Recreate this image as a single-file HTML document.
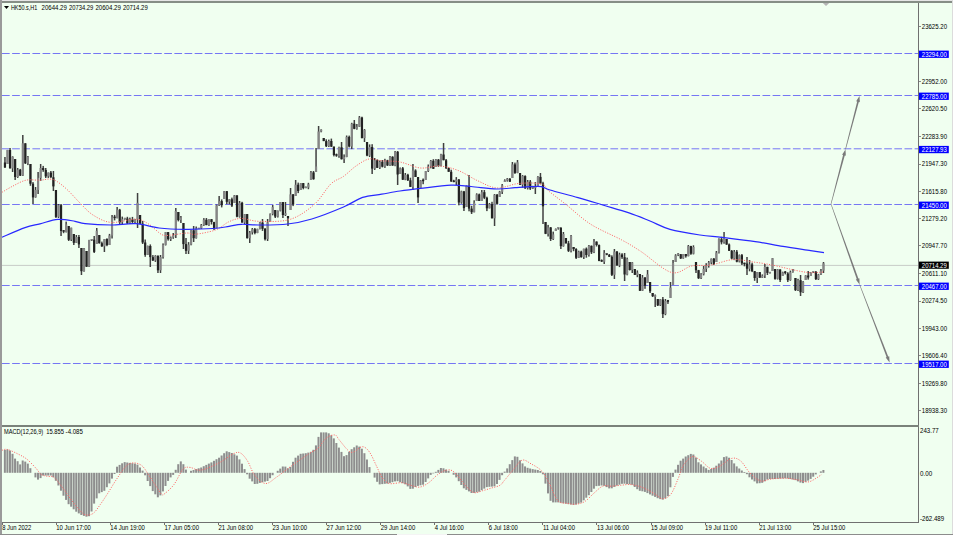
<!DOCTYPE html><html><head><meta charset="utf-8"><style>html,body{margin:0;padding:0;background:#F0FFF0;overflow:hidden}svg{display:block}text{font-family:"Liberation Sans",sans-serif;font-size:7px;fill:#000}</style></head><body>
<svg width="953" height="535" viewBox="0 0 953 535">
<rect x="0" y="0" width="953" height="535" fill="#F0FFF0"/>
<g>
<line x1="2" y1="53.5" x2="918" y2="53.5" stroke="#7676f4" stroke-width="1" stroke-dasharray="7.7 2.44"/>
<line x1="2" y1="95.5" x2="918" y2="95.5" stroke="#7676f4" stroke-width="1" stroke-dasharray="7.7 2.44"/>
<line x1="2" y1="148.8" x2="918" y2="148.8" stroke="#7676f4" stroke-width="1" stroke-dasharray="7.7 2.44"/>
<line x1="2" y1="204.5" x2="918" y2="204.5" stroke="#7676f4" stroke-width="1" stroke-dasharray="7.7 2.44"/>
<line x1="2" y1="285.5" x2="918" y2="285.5" stroke="#7676f4" stroke-width="1" stroke-dasharray="7.7 2.44"/>
<line x1="2" y1="363.5" x2="918" y2="363.5" stroke="#7676f4" stroke-width="1" stroke-dasharray="7.7 2.44"/>
<line x1="2" y1="265.4" x2="918" y2="265.4" stroke="#c8ccc8" stroke-width="1"/>
</g>
<g>
<rect x="4.20" y="157.0" width="1.5" height="11.0" fill="#404040"/>
<rect x="3.85" y="162.5" width="2.2" height="4.9" fill="#222"/>
<rect x="6.75" y="149.9" width="1.5" height="14.1" fill="#404040"/>
<rect x="6.40" y="150.0" width="2.2" height="14.0" fill="#858585"/>
<rect x="9.30" y="148.0" width="1.5" height="20.6" fill="#404040"/>
<rect x="8.95" y="150.0" width="2.2" height="18.3" fill="#222"/>
<rect x="11.85" y="156.3" width="1.5" height="15.7" fill="#404040"/>
<rect x="11.50" y="156.7" width="2.2" height="11.7" fill="#858585"/>
<rect x="14.40" y="159.0" width="1.5" height="21.0" fill="#404040"/>
<rect x="14.05" y="159.0" width="2.2" height="18.0" fill="#222"/>
<rect x="16.95" y="168.0" width="1.5" height="9.9" fill="#404040"/>
<rect x="16.60" y="169.6" width="2.2" height="7.4" fill="#858585"/>
<rect x="19.50" y="168.9" width="1.5" height="7.1" fill="#404040"/>
<rect x="19.15" y="169.6" width="2.2" height="6.0" fill="#222"/>
<rect x="22.05" y="135.0" width="1.5" height="41.0" fill="#404040"/>
<rect x="21.70" y="143.3" width="2.2" height="32.3" fill="#858585"/>
<rect x="24.60" y="143.2" width="1.5" height="20.8" fill="#404040"/>
<rect x="24.25" y="143.3" width="2.2" height="20.0" fill="#222"/>
<rect x="27.15" y="156.0" width="1.5" height="9.1" fill="#404040"/>
<rect x="26.80" y="156.9" width="2.2" height="6.4" fill="#858585"/>
<rect x="29.70" y="164.0" width="1.5" height="21.8" fill="#404040"/>
<rect x="29.35" y="164.0" width="2.2" height="19.7" fill="#222"/>
<rect x="32.25" y="182.1" width="1.5" height="21.9" fill="#404040"/>
<rect x="31.90" y="183.7" width="2.2" height="13.7" fill="#222"/>
<rect x="34.80" y="187.0" width="1.5" height="10.7" fill="#404040"/>
<rect x="34.45" y="189.9" width="2.2" height="7.4" fill="#858585"/>
<rect x="37.35" y="172.0" width="1.5" height="22.0" fill="#404040"/>
<rect x="37.00" y="177.8" width="2.2" height="12.1" fill="#858585"/>
<rect x="39.90" y="164.0" width="1.5" height="17.0" fill="#404040"/>
<rect x="39.55" y="168.0" width="2.2" height="9.9" fill="#858585"/>
<rect x="42.45" y="165.9" width="1.5" height="5.9" fill="#404040"/>
<rect x="42.10" y="168.0" width="2.2" height="2.0" fill="#222"/>
<rect x="45.00" y="168.0" width="1.5" height="10.0" fill="#404040"/>
<rect x="44.65" y="170.0" width="2.2" height="6.4" fill="#222"/>
<rect x="47.55" y="172.5" width="1.5" height="5.4" fill="#404040"/>
<rect x="47.20" y="172.6" width="2.2" height="3.8" fill="#858585"/>
<rect x="50.10" y="171.0" width="1.5" height="6.9" fill="#404040"/>
<rect x="49.75" y="172.6" width="2.2" height="4.6" fill="#222"/>
<rect x="52.65" y="171.0" width="1.5" height="20.0" fill="#404040"/>
<rect x="52.30" y="177.3" width="2.2" height="9.1" fill="#222"/>
<rect x="55.20" y="190.0" width="1.5" height="28.0" fill="#404040"/>
<rect x="54.85" y="190.0" width="2.2" height="26.9" fill="#222"/>
<rect x="57.75" y="204.0" width="1.5" height="14.0" fill="#404040"/>
<rect x="57.40" y="205.2" width="2.2" height="11.6" fill="#858585"/>
<rect x="60.30" y="204.0" width="1.5" height="32.0" fill="#404040"/>
<rect x="59.95" y="205.2" width="2.2" height="25.8" fill="#222"/>
<rect x="62.85" y="230.1" width="1.5" height="3.1" fill="#404040"/>
<rect x="62.50" y="230.2" width="2.2" height="1.5" fill="#222"/>
<rect x="65.40" y="221.6" width="1.5" height="10.9" fill="#404040"/>
<rect x="65.05" y="224.4" width="2.2" height="7.6" fill="#858585"/>
<rect x="67.95" y="226.0" width="1.5" height="15.0" fill="#404040"/>
<rect x="67.60" y="226.0" width="2.2" height="13.8" fill="#222"/>
<rect x="70.50" y="227.7" width="1.5" height="13.3" fill="#404040"/>
<rect x="70.15" y="227.7" width="2.2" height="12.0" fill="#858585"/>
<rect x="73.05" y="234.0" width="1.5" height="11.0" fill="#404040"/>
<rect x="72.70" y="234.0" width="2.2" height="8.8" fill="#222"/>
<rect x="75.60" y="235.0" width="1.5" height="8.0" fill="#404040"/>
<rect x="75.25" y="237.0" width="2.2" height="5.8" fill="#858585"/>
<rect x="78.15" y="235.0" width="1.5" height="13.0" fill="#404040"/>
<rect x="77.80" y="237.0" width="2.2" height="7.4" fill="#222"/>
<rect x="80.70" y="248.0" width="1.5" height="27.0" fill="#404040"/>
<rect x="80.35" y="248.0" width="2.2" height="23.2" fill="#222"/>
<rect x="83.25" y="248.0" width="1.5" height="23.7" fill="#404040"/>
<rect x="82.90" y="248.6" width="2.2" height="22.6" fill="#858585"/>
<rect x="85.80" y="251.0" width="1.5" height="16.0" fill="#404040"/>
<rect x="85.45" y="251.0" width="2.2" height="15.7" fill="#222"/>
<rect x="88.35" y="239.9" width="1.5" height="27.1" fill="#404040"/>
<rect x="88.00" y="239.9" width="2.2" height="26.8" fill="#858585"/>
<rect x="90.90" y="239.0" width="1.5" height="2.0" fill="#404040"/>
<rect x="90.55" y="239.0" width="2.2" height="1.5" fill="#858585"/>
<rect x="93.45" y="236.0" width="1.5" height="17.0" fill="#404040"/>
<rect x="93.10" y="239.7" width="2.2" height="12.2" fill="#222"/>
<rect x="96.00" y="228.0" width="1.5" height="16.0" fill="#404040"/>
<rect x="95.65" y="230.7" width="2.2" height="13.3" fill="#858585"/>
<rect x="98.55" y="235.0" width="1.5" height="8.6" fill="#404040"/>
<rect x="98.20" y="235.0" width="2.2" height="8.2" fill="#222"/>
<rect x="101.10" y="241.6" width="1.5" height="5.2" fill="#404040"/>
<rect x="100.75" y="243.2" width="2.2" height="3.2" fill="#222"/>
<rect x="103.65" y="239.0" width="1.5" height="13.0" fill="#404040"/>
<rect x="103.30" y="239.1" width="2.2" height="7.2" fill="#858585"/>
<rect x="106.20" y="238.3" width="1.5" height="7.9" fill="#404040"/>
<rect x="105.85" y="239.1" width="2.2" height="6.0" fill="#222"/>
<rect x="108.75" y="233.9" width="1.5" height="11.1" fill="#404040"/>
<rect x="108.40" y="235.5" width="2.2" height="9.5" fill="#858585"/>
<rect x="111.30" y="215.0" width="1.5" height="23.5" fill="#404040"/>
<rect x="110.95" y="217.3" width="2.2" height="18.2" fill="#858585"/>
<rect x="113.85" y="214.9" width="1.5" height="5.5" fill="#404040"/>
<rect x="113.50" y="216.6" width="2.2" height="1.5" fill="#222"/>
<rect x="116.40" y="207.0" width="1.5" height="11.3" fill="#404040"/>
<rect x="116.05" y="209.7" width="2.2" height="8.5" fill="#858585"/>
<rect x="118.95" y="208.9" width="1.5" height="15.1" fill="#404040"/>
<rect x="118.60" y="209.7" width="2.2" height="12.6" fill="#222"/>
<rect x="121.50" y="216.6" width="1.5" height="7.4" fill="#404040"/>
<rect x="121.15" y="219.1" width="2.2" height="3.2" fill="#858585"/>
<rect x="124.05" y="217.9" width="1.5" height="1.8" fill="#404040"/>
<rect x="123.70" y="217.8" width="2.2" height="1.5" fill="#858585"/>
<rect x="126.60" y="216.8" width="1.5" height="7.2" fill="#404040"/>
<rect x="126.25" y="218.5" width="2.2" height="4.8" fill="#222"/>
<rect x="129.15" y="217.6" width="1.5" height="6.4" fill="#404040"/>
<rect x="128.80" y="219.4" width="2.2" height="4.0" fill="#858585"/>
<rect x="131.70" y="216.9" width="1.5" height="7.1" fill="#404040"/>
<rect x="131.35" y="219.4" width="2.2" height="2.6" fill="#222"/>
<rect x="134.25" y="218.9" width="1.5" height="5.1" fill="#404040"/>
<rect x="133.90" y="219.3" width="2.2" height="2.6" fill="#858585"/>
<rect x="136.80" y="193.0" width="1.5" height="35.0" fill="#404040"/>
<rect x="136.45" y="202.8" width="2.2" height="16.5" fill="#858585"/>
<rect x="139.35" y="215.0" width="1.5" height="9.2" fill="#404040"/>
<rect x="139.00" y="215.0" width="2.2" height="8.7" fill="#222"/>
<rect x="141.90" y="221.0" width="1.5" height="23.0" fill="#404040"/>
<rect x="141.55" y="223.7" width="2.2" height="18.8" fill="#222"/>
<rect x="144.45" y="239.5" width="1.5" height="17.3" fill="#404040"/>
<rect x="144.10" y="242.5" width="2.2" height="12.4" fill="#222"/>
<rect x="147.00" y="245.6" width="1.5" height="9.3" fill="#404040"/>
<rect x="146.65" y="246.0" width="2.2" height="8.9" fill="#858585"/>
<rect x="149.55" y="244.4" width="1.5" height="22.6" fill="#404040"/>
<rect x="149.20" y="246.0" width="2.2" height="11.1" fill="#222"/>
<rect x="152.10" y="255.1" width="1.5" height="5.9" fill="#404040"/>
<rect x="151.75" y="257.1" width="2.2" height="3.4" fill="#222"/>
<rect x="154.65" y="255.2" width="1.5" height="6.7" fill="#404040"/>
<rect x="154.30" y="255.8" width="2.2" height="4.7" fill="#858585"/>
<rect x="157.20" y="255.4" width="1.5" height="17.6" fill="#404040"/>
<rect x="156.85" y="255.8" width="2.2" height="14.5" fill="#222"/>
<rect x="159.75" y="255.0" width="1.5" height="18.0" fill="#404040"/>
<rect x="159.40" y="257.0" width="2.2" height="13.3" fill="#858585"/>
<rect x="162.30" y="243.4" width="1.5" height="15.2" fill="#404040"/>
<rect x="161.95" y="244.9" width="2.2" height="12.1" fill="#858585"/>
<rect x="164.85" y="232.0" width="1.5" height="13.5" fill="#404040"/>
<rect x="164.50" y="232.1" width="2.2" height="12.8" fill="#858585"/>
<rect x="167.40" y="232.0" width="1.5" height="8.6" fill="#404040"/>
<rect x="167.05" y="232.1" width="2.2" height="7.1" fill="#222"/>
<rect x="169.95" y="236.5" width="1.5" height="4.5" fill="#404040"/>
<rect x="169.60" y="237.5" width="2.2" height="1.8" fill="#858585"/>
<rect x="172.50" y="233.0" width="1.5" height="5.8" fill="#404040"/>
<rect x="172.15" y="235.2" width="2.2" height="2.3" fill="#858585"/>
<rect x="175.05" y="208.0" width="1.5" height="30.0" fill="#404040"/>
<rect x="174.70" y="210.9" width="2.2" height="24.3" fill="#858585"/>
<rect x="177.60" y="212.0" width="1.5" height="9.4" fill="#404040"/>
<rect x="177.25" y="212.0" width="2.2" height="8.1" fill="#222"/>
<rect x="180.15" y="216.0" width="1.5" height="7.0" fill="#404040"/>
<rect x="179.80" y="217.5" width="2.2" height="2.5" fill="#858585"/>
<rect x="182.70" y="223.0" width="1.5" height="26.0" fill="#404040"/>
<rect x="182.35" y="223.0" width="2.2" height="21.1" fill="#222"/>
<rect x="185.25" y="238.0" width="1.5" height="16.0" fill="#404040"/>
<rect x="184.90" y="244.1" width="2.2" height="6.7" fill="#222"/>
<rect x="187.80" y="242.1" width="1.5" height="11.9" fill="#404040"/>
<rect x="187.45" y="244.6" width="2.2" height="6.2" fill="#858585"/>
<rect x="190.35" y="230.1" width="1.5" height="15.2" fill="#404040"/>
<rect x="190.00" y="230.3" width="2.2" height="14.3" fill="#858585"/>
<rect x="192.90" y="226.0" width="1.5" height="16.0" fill="#404040"/>
<rect x="192.55" y="230.3" width="2.2" height="7.9" fill="#222"/>
<rect x="195.45" y="226.5" width="1.5" height="12.1" fill="#404040"/>
<rect x="195.10" y="228.5" width="2.2" height="9.7" fill="#858585"/>
<rect x="198.00" y="228.0" width="1.5" height="1.0" fill="#404040"/>
<rect x="197.65" y="227.6" width="2.2" height="1.5" fill="#858585"/>
<rect x="200.55" y="224.0" width="1.5" height="5.0" fill="#404040"/>
<rect x="200.20" y="224.9" width="2.2" height="3.5" fill="#858585"/>
<rect x="203.10" y="218.1" width="1.5" height="7.8" fill="#404040"/>
<rect x="202.75" y="219.7" width="2.2" height="5.2" fill="#858585"/>
<rect x="205.65" y="218.0" width="1.5" height="7.2" fill="#404040"/>
<rect x="205.30" y="219.7" width="2.2" height="5.4" fill="#222"/>
<rect x="208.20" y="219.2" width="1.5" height="6.7" fill="#404040"/>
<rect x="207.85" y="219.2" width="2.2" height="5.9" fill="#858585"/>
<rect x="210.75" y="219.1" width="1.5" height="5.4" fill="#404040"/>
<rect x="210.40" y="219.2" width="2.2" height="2.8" fill="#222"/>
<rect x="213.30" y="221.8" width="1.5" height="8.2" fill="#404040"/>
<rect x="212.95" y="222.1" width="2.2" height="5.8" fill="#222"/>
<rect x="215.85" y="204.5" width="1.5" height="23.8" fill="#404040"/>
<rect x="215.50" y="205.3" width="2.2" height="22.6" fill="#858585"/>
<rect x="218.40" y="196.0" width="1.5" height="10.0" fill="#404040"/>
<rect x="218.05" y="201.1" width="2.2" height="4.2" fill="#858585"/>
<rect x="220.95" y="199.4" width="1.5" height="8.0" fill="#404040"/>
<rect x="220.60" y="201.1" width="2.2" height="4.1" fill="#222"/>
<rect x="223.50" y="191.0" width="1.5" height="8.0" fill="#404040"/>
<rect x="223.15" y="191.2" width="2.2" height="7.8" fill="#858585"/>
<rect x="226.05" y="191.0" width="1.5" height="13.2" fill="#404040"/>
<rect x="225.70" y="191.2" width="2.2" height="10.6" fill="#222"/>
<rect x="228.60" y="199.1" width="1.5" height="5.2" fill="#404040"/>
<rect x="228.25" y="199.3" width="2.2" height="2.4" fill="#858585"/>
<rect x="231.15" y="197.6" width="1.5" height="9.4" fill="#404040"/>
<rect x="230.80" y="199.3" width="2.2" height="6.3" fill="#222"/>
<rect x="233.70" y="195.0" width="1.5" height="8.0" fill="#404040"/>
<rect x="233.35" y="195.4" width="2.2" height="7.6" fill="#858585"/>
<rect x="236.25" y="195.2" width="1.5" height="22.1" fill="#404040"/>
<rect x="235.90" y="195.4" width="2.2" height="21.3" fill="#222"/>
<rect x="238.80" y="201.0" width="1.5" height="16.6" fill="#404040"/>
<rect x="238.45" y="202.8" width="2.2" height="13.9" fill="#858585"/>
<rect x="241.35" y="201.8" width="1.5" height="20.8" fill="#404040"/>
<rect x="241.00" y="202.8" width="2.2" height="19.8" fill="#222"/>
<rect x="243.90" y="214.0" width="1.5" height="10.0" fill="#404040"/>
<rect x="243.55" y="214.1" width="2.2" height="8.5" fill="#858585"/>
<rect x="246.45" y="214.0" width="1.5" height="24.5" fill="#404040"/>
<rect x="246.10" y="214.1" width="2.2" height="24.1" fill="#222"/>
<rect x="249.00" y="231.0" width="1.5" height="12.0" fill="#404040"/>
<rect x="248.65" y="232.5" width="2.2" height="5.7" fill="#858585"/>
<rect x="251.55" y="228.0" width="1.5" height="6.5" fill="#404040"/>
<rect x="251.20" y="229.2" width="2.2" height="3.2" fill="#858585"/>
<rect x="254.10" y="228.0" width="1.5" height="6.3" fill="#404040"/>
<rect x="253.75" y="229.2" width="2.2" height="3.7" fill="#222"/>
<rect x="256.65" y="228.7" width="1.5" height="4.5" fill="#404040"/>
<rect x="256.30" y="228.9" width="2.2" height="4.1" fill="#858585"/>
<rect x="259.20" y="221.9" width="1.5" height="7.5" fill="#404040"/>
<rect x="258.85" y="222.6" width="2.2" height="6.2" fill="#858585"/>
<rect x="261.75" y="219.0" width="1.5" height="11.9" fill="#404040"/>
<rect x="261.40" y="222.6" width="2.2" height="6.2" fill="#222"/>
<rect x="264.30" y="228.0" width="1.5" height="12.5" fill="#404040"/>
<rect x="263.95" y="228.9" width="2.2" height="10.3" fill="#222"/>
<rect x="266.85" y="219.0" width="1.5" height="22.0" fill="#404040"/>
<rect x="266.50" y="222.4" width="2.2" height="16.7" fill="#858585"/>
<rect x="269.40" y="213.4" width="1.5" height="8.6" fill="#404040"/>
<rect x="269.05" y="214.1" width="2.2" height="7.9" fill="#858585"/>
<rect x="271.95" y="205.0" width="1.5" height="10.3" fill="#404040"/>
<rect x="271.60" y="207.1" width="2.2" height="7.0" fill="#858585"/>
<rect x="274.50" y="210.0" width="1.5" height="8.0" fill="#404040"/>
<rect x="274.15" y="210.0" width="2.2" height="6.6" fill="#222"/>
<rect x="277.05" y="210.5" width="1.5" height="7.0" fill="#404040"/>
<rect x="276.70" y="210.7" width="2.2" height="5.9" fill="#858585"/>
<rect x="279.60" y="202.0" width="1.5" height="9.4" fill="#404040"/>
<rect x="279.25" y="202.1" width="2.2" height="8.6" fill="#858585"/>
<rect x="282.15" y="202.0" width="1.5" height="16.0" fill="#404040"/>
<rect x="281.80" y="202.1" width="2.2" height="12.9" fill="#222"/>
<rect x="284.70" y="202.0" width="1.5" height="14.0" fill="#404040"/>
<rect x="284.35" y="213.2" width="2.2" height="1.8" fill="#858585"/>
<rect x="287.25" y="216.0" width="1.5" height="10.0" fill="#404040"/>
<rect x="286.90" y="216.0" width="2.2" height="2.2" fill="#222"/>
<rect x="289.80" y="188.0" width="1.5" height="22.0" fill="#404040"/>
<rect x="289.45" y="194.4" width="2.2" height="15.6" fill="#858585"/>
<rect x="292.35" y="194.0" width="1.5" height="12.1" fill="#404040"/>
<rect x="292.00" y="194.4" width="2.2" height="10.1" fill="#222"/>
<rect x="294.90" y="180.0" width="1.5" height="16.0" fill="#404040"/>
<rect x="294.55" y="184.7" width="2.2" height="11.3" fill="#858585"/>
<rect x="297.45" y="182.6" width="1.5" height="10.5" fill="#404040"/>
<rect x="297.10" y="184.7" width="2.2" height="6.3" fill="#222"/>
<rect x="300.00" y="183.0" width="1.5" height="7.0" fill="#404040"/>
<rect x="299.65" y="183.1" width="2.2" height="6.9" fill="#858585"/>
<rect x="302.55" y="183.0" width="1.5" height="6.3" fill="#404040"/>
<rect x="302.20" y="183.1" width="2.2" height="4.9" fill="#222"/>
<rect x="305.10" y="186.5" width="1.5" height="1.5" fill="#404040"/>
<rect x="304.75" y="186.8" width="2.2" height="1.5" fill="#858585"/>
<rect x="307.65" y="182.8" width="1.5" height="6.4" fill="#404040"/>
<rect x="307.30" y="184.3" width="2.2" height="3.2" fill="#858585"/>
<rect x="310.20" y="171.0" width="1.5" height="9.0" fill="#404040"/>
<rect x="309.85" y="172.4" width="2.2" height="7.6" fill="#858585"/>
<rect x="312.75" y="171.0" width="1.5" height="8.7" fill="#404040"/>
<rect x="312.40" y="172.4" width="2.2" height="6.8" fill="#222"/>
<rect x="315.30" y="148.0" width="1.5" height="24.0" fill="#404040"/>
<rect x="314.95" y="166.5" width="2.2" height="5.5" fill="#858585"/>
<rect x="317.85" y="126.0" width="1.5" height="23.0" fill="#404040"/>
<rect x="317.50" y="131.5" width="2.2" height="17.5" fill="#858585"/>
<rect x="320.40" y="129.3" width="1.5" height="3.0" fill="#404040"/>
<rect x="320.05" y="129.7" width="2.2" height="1.8" fill="#858585"/>
<rect x="322.95" y="138.0" width="1.5" height="3.1" fill="#404040"/>
<rect x="322.60" y="138.0" width="2.2" height="3.1" fill="#222"/>
<rect x="325.50" y="139.3" width="1.5" height="7.7" fill="#404040"/>
<rect x="325.15" y="141.1" width="2.2" height="5.1" fill="#222"/>
<rect x="328.05" y="139.6" width="1.5" height="7.4" fill="#404040"/>
<rect x="327.70" y="141.0" width="2.2" height="5.2" fill="#858585"/>
<rect x="330.60" y="138.6" width="1.5" height="8.4" fill="#404040"/>
<rect x="330.25" y="141.0" width="2.2" height="5.6" fill="#222"/>
<rect x="333.15" y="146.6" width="1.5" height="9.8" fill="#404040"/>
<rect x="332.80" y="146.6" width="2.2" height="8.4" fill="#222"/>
<rect x="335.70" y="153.6" width="1.5" height="3.2" fill="#404040"/>
<rect x="335.35" y="154.2" width="2.2" height="1.5" fill="#222"/>
<rect x="338.25" y="146.7" width="1.5" height="11.1" fill="#404040"/>
<rect x="337.90" y="147.3" width="2.2" height="8.7" fill="#858585"/>
<rect x="340.80" y="142.0" width="1.5" height="17.5" fill="#404040"/>
<rect x="340.45" y="147.3" width="2.2" height="11.9" fill="#222"/>
<rect x="343.35" y="154.4" width="1.5" height="8.6" fill="#404040"/>
<rect x="343.00" y="157.1" width="2.2" height="2.1" fill="#858585"/>
<rect x="345.90" y="135.5" width="1.5" height="21.7" fill="#404040"/>
<rect x="345.55" y="136.9" width="2.2" height="20.1" fill="#858585"/>
<rect x="348.45" y="135.6" width="1.5" height="11.8" fill="#404040"/>
<rect x="348.10" y="136.9" width="2.2" height="9.6" fill="#222"/>
<rect x="351.00" y="122.8" width="1.5" height="26.3" fill="#404040"/>
<rect x="350.65" y="123.7" width="2.2" height="22.8" fill="#858585"/>
<rect x="353.55" y="120.0" width="1.5" height="9.2" fill="#404040"/>
<rect x="353.20" y="123.7" width="2.2" height="5.1" fill="#222"/>
<rect x="356.10" y="124.0" width="1.5" height="5.7" fill="#404040"/>
<rect x="355.75" y="126.7" width="2.2" height="2.1" fill="#858585"/>
<rect x="358.65" y="116.0" width="1.5" height="11.0" fill="#404040"/>
<rect x="358.30" y="117.5" width="2.2" height="9.2" fill="#858585"/>
<rect x="361.20" y="116.7" width="1.5" height="21.6" fill="#404040"/>
<rect x="360.85" y="117.5" width="2.2" height="20.6" fill="#222"/>
<rect x="363.75" y="129.1" width="1.5" height="12.9" fill="#404040"/>
<rect x="363.40" y="130.0" width="2.2" height="8.1" fill="#858585"/>
<rect x="366.30" y="142.0" width="1.5" height="14.2" fill="#404040"/>
<rect x="365.95" y="142.0" width="2.2" height="13.6" fill="#222"/>
<rect x="368.85" y="144.4" width="1.5" height="12.6" fill="#404040"/>
<rect x="368.50" y="147.0" width="2.2" height="8.6" fill="#858585"/>
<rect x="371.40" y="144.2" width="1.5" height="29.8" fill="#404040"/>
<rect x="371.05" y="147.0" width="2.2" height="21.6" fill="#222"/>
<rect x="373.95" y="158.0" width="1.5" height="11.9" fill="#404040"/>
<rect x="373.60" y="160.2" width="2.2" height="8.4" fill="#858585"/>
<rect x="376.50" y="159.4" width="1.5" height="8.6" fill="#404040"/>
<rect x="376.15" y="160.2" width="2.2" height="7.6" fill="#222"/>
<rect x="379.05" y="160.5" width="1.5" height="8.5" fill="#404040"/>
<rect x="378.70" y="161.8" width="2.2" height="6.0" fill="#858585"/>
<rect x="381.60" y="160.0" width="1.5" height="7.4" fill="#404040"/>
<rect x="381.25" y="161.8" width="2.2" height="4.9" fill="#222"/>
<rect x="384.15" y="158.8" width="1.5" height="9.1" fill="#404040"/>
<rect x="383.80" y="160.4" width="2.2" height="6.2" fill="#858585"/>
<rect x="386.70" y="159.8" width="1.5" height="6.2" fill="#404040"/>
<rect x="386.35" y="160.4" width="2.2" height="5.0" fill="#222"/>
<rect x="389.25" y="156.0" width="1.5" height="10.0" fill="#404040"/>
<rect x="388.90" y="156.8" width="2.2" height="8.7" fill="#858585"/>
<rect x="391.80" y="156.2" width="1.5" height="9.6" fill="#404040"/>
<rect x="391.45" y="156.8" width="2.2" height="8.7" fill="#222"/>
<rect x="394.35" y="151.0" width="1.5" height="15.2" fill="#404040"/>
<rect x="394.00" y="151.8" width="2.2" height="13.7" fill="#858585"/>
<rect x="396.90" y="151.0" width="1.5" height="34.0" fill="#404040"/>
<rect x="396.55" y="151.8" width="2.2" height="22.7" fill="#222"/>
<rect x="399.45" y="167.5" width="1.5" height="6.5" fill="#404040"/>
<rect x="399.10" y="168.3" width="2.2" height="5.7" fill="#858585"/>
<rect x="402.00" y="167.0" width="1.5" height="13.0" fill="#404040"/>
<rect x="401.65" y="168.3" width="2.2" height="11.4" fill="#222"/>
<rect x="404.55" y="173.0" width="1.5" height="7.2" fill="#404040"/>
<rect x="404.20" y="174.8" width="2.2" height="4.9" fill="#858585"/>
<rect x="407.10" y="173.8" width="1.5" height="7.2" fill="#404040"/>
<rect x="406.75" y="174.8" width="2.2" height="5.5" fill="#222"/>
<rect x="409.65" y="177.7" width="1.5" height="9.3" fill="#404040"/>
<rect x="409.30" y="180.3" width="2.2" height="6.6" fill="#222"/>
<rect x="412.20" y="164.0" width="1.5" height="26.0" fill="#404040"/>
<rect x="411.85" y="170.5" width="2.2" height="16.4" fill="#858585"/>
<rect x="414.75" y="169.3" width="1.5" height="7.7" fill="#404040"/>
<rect x="414.40" y="170.5" width="2.2" height="6.5" fill="#222"/>
<rect x="417.30" y="177.0" width="1.5" height="26.0" fill="#404040"/>
<rect x="416.95" y="177.0" width="2.2" height="20.4" fill="#222"/>
<rect x="419.85" y="180.0" width="1.5" height="8.0" fill="#404040"/>
<rect x="419.50" y="180.4" width="2.2" height="7.6" fill="#858585"/>
<rect x="422.40" y="178.5" width="1.5" height="5.7" fill="#404040"/>
<rect x="422.05" y="179.7" width="2.2" height="1.5" fill="#222"/>
<rect x="424.95" y="171.0" width="1.5" height="9.0" fill="#404040"/>
<rect x="424.60" y="171.1" width="2.2" height="8.9" fill="#858585"/>
<rect x="427.50" y="164.5" width="1.5" height="7.5" fill="#404040"/>
<rect x="427.15" y="166.4" width="2.2" height="4.7" fill="#858585"/>
<rect x="430.05" y="160.0" width="1.5" height="8.3" fill="#404040"/>
<rect x="429.70" y="160.8" width="2.2" height="5.6" fill="#858585"/>
<rect x="432.60" y="159.2" width="1.5" height="9.8" fill="#404040"/>
<rect x="432.25" y="160.8" width="2.2" height="8.0" fill="#222"/>
<rect x="435.15" y="159.0" width="1.5" height="8.0" fill="#404040"/>
<rect x="434.80" y="159.6" width="2.2" height="7.4" fill="#858585"/>
<rect x="437.70" y="159.0" width="1.5" height="8.0" fill="#404040"/>
<rect x="437.35" y="159.6" width="2.2" height="6.1" fill="#222"/>
<rect x="440.25" y="153.8" width="1.5" height="12.6" fill="#404040"/>
<rect x="439.90" y="154.5" width="2.2" height="11.2" fill="#858585"/>
<rect x="442.80" y="143.0" width="1.5" height="17.3" fill="#404040"/>
<rect x="442.45" y="154.5" width="2.2" height="5.7" fill="#222"/>
<rect x="445.35" y="159.0" width="1.5" height="10.0" fill="#404040"/>
<rect x="445.00" y="160.3" width="2.2" height="7.8" fill="#222"/>
<rect x="447.90" y="167.4" width="1.5" height="4.4" fill="#404040"/>
<rect x="447.55" y="168.1" width="2.2" height="3.7" fill="#222"/>
<rect x="450.45" y="169.7" width="1.5" height="12.2" fill="#404040"/>
<rect x="450.10" y="171.8" width="2.2" height="9.6" fill="#222"/>
<rect x="453.00" y="179.8" width="1.5" height="2.4" fill="#404040"/>
<rect x="452.65" y="180.6" width="2.2" height="1.5" fill="#222"/>
<rect x="455.55" y="177.1" width="1.5" height="7.9" fill="#404040"/>
<rect x="455.20" y="179.6" width="2.2" height="2.0" fill="#858585"/>
<rect x="458.10" y="179.0" width="1.5" height="26.3" fill="#404040"/>
<rect x="457.75" y="179.6" width="2.2" height="22.9" fill="#222"/>
<rect x="460.65" y="190.7" width="1.5" height="13.0" fill="#404040"/>
<rect x="460.30" y="191.4" width="2.2" height="11.1" fill="#858585"/>
<rect x="463.20" y="190.9" width="1.5" height="20.1" fill="#404040"/>
<rect x="462.85" y="191.4" width="2.2" height="16.7" fill="#222"/>
<rect x="465.75" y="185.5" width="1.5" height="21.5" fill="#404040"/>
<rect x="465.40" y="185.9" width="2.2" height="21.1" fill="#858585"/>
<rect x="468.30" y="175.0" width="1.5" height="36.3" fill="#404040"/>
<rect x="467.95" y="185.9" width="2.2" height="22.7" fill="#222"/>
<rect x="470.85" y="205.8" width="1.5" height="8.2" fill="#404040"/>
<rect x="470.50" y="208.6" width="2.2" height="3.6" fill="#222"/>
<rect x="473.40" y="200.3" width="1.5" height="12.0" fill="#404040"/>
<rect x="473.05" y="202.6" width="2.2" height="9.7" fill="#858585"/>
<rect x="475.95" y="193.3" width="1.5" height="7.7" fill="#404040"/>
<rect x="475.60" y="194.4" width="2.2" height="6.6" fill="#858585"/>
<rect x="478.50" y="193.6" width="1.5" height="7.4" fill="#404040"/>
<rect x="478.15" y="194.4" width="2.2" height="6.6" fill="#222"/>
<rect x="481.05" y="190.0" width="1.5" height="11.0" fill="#404040"/>
<rect x="480.70" y="192.2" width="2.2" height="8.8" fill="#858585"/>
<rect x="483.60" y="190.0" width="1.5" height="9.1" fill="#404040"/>
<rect x="483.25" y="192.2" width="2.2" height="5.6" fill="#222"/>
<rect x="486.15" y="196.7" width="1.5" height="14.4" fill="#404040"/>
<rect x="485.80" y="197.8" width="2.2" height="10.5" fill="#222"/>
<rect x="488.70" y="203.0" width="1.5" height="5.4" fill="#404040"/>
<rect x="488.35" y="204.1" width="2.2" height="4.2" fill="#858585"/>
<rect x="491.25" y="201.8" width="1.5" height="16.6" fill="#404040"/>
<rect x="490.90" y="204.1" width="2.2" height="14.2" fill="#222"/>
<rect x="493.80" y="194.0" width="1.5" height="32.0" fill="#404040"/>
<rect x="493.45" y="194.7" width="2.2" height="23.6" fill="#858585"/>
<rect x="496.35" y="194.0" width="1.5" height="10.6" fill="#404040"/>
<rect x="496.00" y="194.7" width="2.2" height="9.1" fill="#222"/>
<rect x="498.90" y="190.9" width="1.5" height="6.1" fill="#404040"/>
<rect x="498.55" y="191.7" width="2.2" height="5.3" fill="#858585"/>
<rect x="501.45" y="184.0" width="1.5" height="10.0" fill="#404040"/>
<rect x="501.10" y="185.3" width="2.2" height="6.5" fill="#858585"/>
<rect x="504.00" y="179.3" width="1.5" height="2.7" fill="#404040"/>
<rect x="503.65" y="180.4" width="2.2" height="1.6" fill="#858585"/>
<rect x="506.55" y="178.0" width="1.5" height="3.6" fill="#404040"/>
<rect x="506.20" y="178.7" width="2.2" height="1.8" fill="#858585"/>
<rect x="509.10" y="178.1" width="1.5" height="3.9" fill="#404040"/>
<rect x="508.75" y="178.7" width="2.2" height="3.0" fill="#222"/>
<rect x="511.65" y="162.0" width="1.5" height="16.0" fill="#404040"/>
<rect x="511.30" y="164.4" width="2.2" height="13.6" fill="#858585"/>
<rect x="514.20" y="162.6" width="1.5" height="11.3" fill="#404040"/>
<rect x="513.85" y="164.4" width="2.2" height="8.5" fill="#222"/>
<rect x="516.75" y="160.0" width="1.5" height="13.2" fill="#404040"/>
<rect x="516.40" y="162.3" width="2.2" height="10.6" fill="#858585"/>
<rect x="519.30" y="173.0" width="1.5" height="12.0" fill="#404040"/>
<rect x="518.95" y="173.0" width="2.2" height="11.8" fill="#222"/>
<rect x="521.85" y="175.1" width="1.5" height="12.6" fill="#404040"/>
<rect x="521.50" y="176.1" width="2.2" height="8.7" fill="#858585"/>
<rect x="524.40" y="175.3" width="1.5" height="13.7" fill="#404040"/>
<rect x="524.05" y="176.1" width="2.2" height="12.0" fill="#222"/>
<rect x="526.95" y="180.0" width="1.5" height="9.5" fill="#404040"/>
<rect x="526.60" y="181.7" width="2.2" height="6.4" fill="#858585"/>
<rect x="529.50" y="180.0" width="1.5" height="10.0" fill="#404040"/>
<rect x="529.15" y="181.7" width="2.2" height="6.8" fill="#222"/>
<rect x="532.05" y="185.8" width="1.5" height="3.1" fill="#404040"/>
<rect x="531.70" y="187.0" width="2.2" height="1.5" fill="#858585"/>
<rect x="534.60" y="182.0" width="1.5" height="12.0" fill="#404040"/>
<rect x="534.25" y="186.0" width="2.2" height="1.8" fill="#858585"/>
<rect x="537.15" y="176.1" width="1.5" height="10.6" fill="#404040"/>
<rect x="536.80" y="176.9" width="2.2" height="9.1" fill="#858585"/>
<rect x="539.70" y="173.0" width="1.5" height="11.3" fill="#404040"/>
<rect x="539.35" y="176.9" width="2.2" height="6.5" fill="#222"/>
<rect x="542.25" y="181.8" width="1.5" height="42.2" fill="#404040"/>
<rect x="541.90" y="183.4" width="2.2" height="22.9" fill="#222"/>
<rect x="544.80" y="222.0" width="1.5" height="12.1" fill="#404040"/>
<rect x="544.45" y="222.0" width="2.2" height="11.8" fill="#222"/>
<rect x="547.35" y="224.9" width="1.5" height="11.6" fill="#404040"/>
<rect x="547.00" y="227.4" width="2.2" height="6.4" fill="#858585"/>
<rect x="549.90" y="227.1" width="1.5" height="13.9" fill="#404040"/>
<rect x="549.55" y="227.4" width="2.2" height="11.6" fill="#222"/>
<rect x="552.45" y="231.6" width="1.5" height="8.4" fill="#404040"/>
<rect x="552.10" y="234.4" width="2.2" height="4.7" fill="#858585"/>
<rect x="555.00" y="228.5" width="1.5" height="2.5" fill="#404040"/>
<rect x="554.65" y="228.8" width="2.2" height="2.2" fill="#858585"/>
<rect x="557.55" y="227.0" width="1.5" height="2.6" fill="#404040"/>
<rect x="557.20" y="227.0" width="2.2" height="1.5" fill="#858585"/>
<rect x="560.10" y="227.3" width="1.5" height="21.7" fill="#404040"/>
<rect x="559.75" y="227.7" width="2.2" height="18.4" fill="#222"/>
<rect x="562.65" y="232.0" width="1.5" height="14.7" fill="#404040"/>
<rect x="562.30" y="234.0" width="2.2" height="12.2" fill="#858585"/>
<rect x="565.20" y="238.0" width="1.5" height="5.6" fill="#404040"/>
<rect x="564.85" y="238.0" width="2.2" height="5.3" fill="#222"/>
<rect x="567.75" y="240.9" width="1.5" height="11.1" fill="#404040"/>
<rect x="567.40" y="243.3" width="2.2" height="7.5" fill="#222"/>
<rect x="570.30" y="235.0" width="1.5" height="17.4" fill="#404040"/>
<rect x="569.95" y="235.9" width="2.2" height="14.9" fill="#858585"/>
<rect x="572.85" y="247.0" width="1.5" height="4.2" fill="#404040"/>
<rect x="572.50" y="247.0" width="2.2" height="2.1" fill="#222"/>
<rect x="575.40" y="248.2" width="1.5" height="10.8" fill="#404040"/>
<rect x="575.05" y="249.1" width="2.2" height="8.7" fill="#222"/>
<rect x="577.95" y="250.7" width="1.5" height="7.3" fill="#404040"/>
<rect x="577.60" y="251.6" width="2.2" height="6.2" fill="#858585"/>
<rect x="580.50" y="250.7" width="1.5" height="6.9" fill="#404040"/>
<rect x="580.15" y="251.6" width="2.2" height="5.6" fill="#222"/>
<rect x="583.05" y="248.7" width="1.5" height="10.3" fill="#404040"/>
<rect x="582.70" y="248.7" width="2.2" height="8.5" fill="#858585"/>
<rect x="585.60" y="247.5" width="1.5" height="10.2" fill="#404040"/>
<rect x="585.25" y="248.7" width="2.2" height="6.3" fill="#222"/>
<rect x="588.15" y="245.0" width="1.5" height="11.6" fill="#404040"/>
<rect x="587.80" y="245.8" width="2.2" height="9.2" fill="#858585"/>
<rect x="590.70" y="245.5" width="1.5" height="8.5" fill="#404040"/>
<rect x="590.35" y="245.8" width="2.2" height="6.5" fill="#222"/>
<rect x="593.25" y="239.0" width="1.5" height="14.1" fill="#404040"/>
<rect x="592.90" y="241.6" width="2.2" height="10.6" fill="#858585"/>
<rect x="595.80" y="241.4" width="1.5" height="5.1" fill="#404040"/>
<rect x="595.45" y="241.6" width="2.2" height="3.4" fill="#222"/>
<rect x="598.35" y="244.5" width="1.5" height="16.7" fill="#404040"/>
<rect x="598.00" y="245.1" width="2.2" height="15.8" fill="#222"/>
<rect x="600.90" y="259.4" width="1.5" height="2.5" fill="#404040"/>
<rect x="600.55" y="260.1" width="2.2" height="1.5" fill="#222"/>
<rect x="603.45" y="250.1" width="1.5" height="13.9" fill="#404040"/>
<rect x="603.10" y="252.8" width="2.2" height="8.9" fill="#858585"/>
<rect x="606.00" y="254.0" width="1.5" height="1.2" fill="#404040"/>
<rect x="605.65" y="253.2" width="2.2" height="1.5" fill="#222"/>
<rect x="608.55" y="254.0" width="1.5" height="3.0" fill="#404040"/>
<rect x="608.20" y="254.9" width="2.2" height="1.9" fill="#222"/>
<rect x="611.10" y="255.3" width="1.5" height="20.7" fill="#404040"/>
<rect x="610.75" y="256.8" width="2.2" height="18.0" fill="#222"/>
<rect x="613.65" y="249.0" width="1.5" height="30.0" fill="#404040"/>
<rect x="613.30" y="251.6" width="2.2" height="23.2" fill="#858585"/>
<rect x="616.20" y="251.0" width="1.5" height="14.6" fill="#404040"/>
<rect x="615.85" y="251.6" width="2.2" height="13.9" fill="#222"/>
<rect x="618.75" y="252.7" width="1.5" height="14.4" fill="#404040"/>
<rect x="618.40" y="254.5" width="2.2" height="11.0" fill="#858585"/>
<rect x="621.30" y="253.2" width="1.5" height="5.7" fill="#404040"/>
<rect x="620.95" y="254.5" width="2.2" height="2.7" fill="#222"/>
<rect x="623.85" y="253.0" width="1.5" height="28.0" fill="#404040"/>
<rect x="623.50" y="257.2" width="2.2" height="17.3" fill="#222"/>
<rect x="626.40" y="257.6" width="1.5" height="17.7" fill="#404040"/>
<rect x="626.05" y="259.1" width="2.2" height="15.5" fill="#858585"/>
<rect x="628.95" y="262.0" width="1.5" height="8.5" fill="#404040"/>
<rect x="628.60" y="262.0" width="2.2" height="8.0" fill="#222"/>
<rect x="631.50" y="262.0" width="1.5" height="11.0" fill="#404040"/>
<rect x="631.15" y="262.4" width="2.2" height="7.6" fill="#858585"/>
<rect x="634.05" y="269.0" width="1.5" height="6.0" fill="#404040"/>
<rect x="633.70" y="269.0" width="2.2" height="5.9" fill="#222"/>
<rect x="636.60" y="270.4" width="1.5" height="6.8" fill="#404040"/>
<rect x="636.25" y="272.6" width="2.2" height="2.3" fill="#858585"/>
<rect x="639.15" y="274.0" width="1.5" height="17.0" fill="#404040"/>
<rect x="638.80" y="274.0" width="2.2" height="16.7" fill="#222"/>
<rect x="641.70" y="275.0" width="1.5" height="16.0" fill="#404040"/>
<rect x="641.35" y="277.6" width="2.2" height="13.1" fill="#858585"/>
<rect x="644.25" y="277.0" width="1.5" height="11.8" fill="#404040"/>
<rect x="643.90" y="277.6" width="2.2" height="8.2" fill="#222"/>
<rect x="646.80" y="270.0" width="1.5" height="13.0" fill="#404040"/>
<rect x="646.45" y="274.4" width="2.2" height="8.6" fill="#858585"/>
<rect x="649.35" y="282.0" width="1.5" height="11.0" fill="#404040"/>
<rect x="649.00" y="282.0" width="2.2" height="9.3" fill="#222"/>
<rect x="651.90" y="293.0" width="1.5" height="4.0" fill="#404040"/>
<rect x="651.55" y="293.0" width="2.2" height="3.2" fill="#222"/>
<rect x="654.45" y="294.5" width="1.5" height="12.5" fill="#404040"/>
<rect x="654.10" y="295.3" width="2.2" height="1.5" fill="#858585"/>
<rect x="657.00" y="299.0" width="1.5" height="7.0" fill="#404040"/>
<rect x="656.65" y="299.0" width="2.2" height="6.4" fill="#222"/>
<rect x="659.55" y="299.1" width="1.5" height="6.9" fill="#404040"/>
<rect x="659.20" y="299.4" width="2.2" height="5.9" fill="#858585"/>
<rect x="662.10" y="297.0" width="1.5" height="21.0" fill="#404040"/>
<rect x="661.75" y="299.4" width="2.2" height="14.7" fill="#222"/>
<rect x="664.65" y="299.0" width="1.5" height="16.2" fill="#404040"/>
<rect x="664.30" y="300.9" width="2.2" height="13.2" fill="#858585"/>
<rect x="667.20" y="299.9" width="1.5" height="4.0" fill="#404040"/>
<rect x="666.85" y="300.2" width="2.2" height="1.5" fill="#222"/>
<rect x="669.75" y="282.0" width="1.5" height="16.0" fill="#404040"/>
<rect x="669.40" y="287.6" width="2.2" height="10.4" fill="#858585"/>
<rect x="672.30" y="260.0" width="1.5" height="25.0" fill="#404040"/>
<rect x="671.95" y="263.0" width="2.2" height="22.0" fill="#858585"/>
<rect x="674.85" y="254.2" width="1.5" height="7.8" fill="#404040"/>
<rect x="674.50" y="255.4" width="2.2" height="6.6" fill="#858585"/>
<rect x="677.40" y="253.0" width="1.5" height="3.1" fill="#404040"/>
<rect x="677.05" y="253.5" width="2.2" height="1.5" fill="#858585"/>
<rect x="679.95" y="254.0" width="1.5" height="5.0" fill="#404040"/>
<rect x="679.60" y="254.2" width="2.2" height="4.2" fill="#222"/>
<rect x="682.50" y="254.0" width="1.5" height="4.7" fill="#404040"/>
<rect x="682.15" y="254.0" width="2.2" height="4.4" fill="#858585"/>
<rect x="685.05" y="254.0" width="1.5" height="3.6" fill="#404040"/>
<rect x="684.70" y="254.0" width="2.2" height="2.2" fill="#222"/>
<rect x="687.60" y="245.0" width="1.5" height="11.3" fill="#404040"/>
<rect x="687.25" y="246.1" width="2.2" height="10.1" fill="#858585"/>
<rect x="690.15" y="245.8" width="1.5" height="9.0" fill="#404040"/>
<rect x="689.80" y="246.1" width="2.2" height="7.6" fill="#222"/>
<rect x="692.70" y="245.3" width="1.5" height="9.1" fill="#404040"/>
<rect x="692.35" y="247.0" width="2.2" height="6.7" fill="#858585"/>
<rect x="695.25" y="262.0" width="1.5" height="11.0" fill="#404040"/>
<rect x="694.90" y="262.0" width="2.2" height="8.2" fill="#222"/>
<rect x="697.80" y="269.9" width="1.5" height="9.1" fill="#404040"/>
<rect x="697.45" y="270.2" width="2.2" height="8.0" fill="#222"/>
<rect x="700.35" y="273.1" width="1.5" height="5.9" fill="#404040"/>
<rect x="700.00" y="274.3" width="2.2" height="3.8" fill="#858585"/>
<rect x="702.90" y="266.0" width="1.5" height="9.4" fill="#404040"/>
<rect x="702.55" y="268.9" width="2.2" height="5.4" fill="#858585"/>
<rect x="705.45" y="263.2" width="1.5" height="8.8" fill="#404040"/>
<rect x="705.10" y="266.0" width="2.2" height="2.9" fill="#858585"/>
<rect x="708.00" y="261.0" width="1.5" height="6.6" fill="#404040"/>
<rect x="707.65" y="262.4" width="2.2" height="3.6" fill="#858585"/>
<rect x="710.55" y="258.5" width="1.5" height="5.8" fill="#404040"/>
<rect x="710.20" y="258.7" width="2.2" height="3.8" fill="#858585"/>
<rect x="713.10" y="258.0" width="1.5" height="6.8" fill="#404040"/>
<rect x="712.75" y="258.7" width="2.2" height="5.8" fill="#222"/>
<rect x="715.65" y="251.0" width="1.5" height="11.0" fill="#404040"/>
<rect x="715.30" y="252.6" width="2.2" height="9.4" fill="#858585"/>
<rect x="718.20" y="238.3" width="1.5" height="15.2" fill="#404040"/>
<rect x="717.85" y="239.2" width="2.2" height="13.4" fill="#858585"/>
<rect x="720.75" y="236.8" width="1.5" height="7.6" fill="#404040"/>
<rect x="720.40" y="239.2" width="2.2" height="3.1" fill="#222"/>
<rect x="723.30" y="232.0" width="1.5" height="11.7" fill="#404040"/>
<rect x="722.95" y="237.6" width="2.2" height="4.7" fill="#858585"/>
<rect x="725.85" y="239.0" width="1.5" height="5.9" fill="#404040"/>
<rect x="725.50" y="239.0" width="2.2" height="5.5" fill="#222"/>
<rect x="728.40" y="243.5" width="1.5" height="7.5" fill="#404040"/>
<rect x="728.05" y="244.5" width="2.2" height="6.3" fill="#222"/>
<rect x="730.95" y="250.0" width="1.5" height="9.3" fill="#404040"/>
<rect x="730.60" y="250.8" width="2.2" height="7.7" fill="#222"/>
<rect x="733.50" y="250.0" width="1.5" height="10.1" fill="#404040"/>
<rect x="733.15" y="251.7" width="2.2" height="6.9" fill="#858585"/>
<rect x="736.05" y="250.0" width="1.5" height="12.3" fill="#404040"/>
<rect x="735.70" y="251.7" width="2.2" height="10.0" fill="#222"/>
<rect x="738.60" y="254.5" width="1.5" height="7.9" fill="#404040"/>
<rect x="738.25" y="255.2" width="2.2" height="6.4" fill="#858585"/>
<rect x="741.15" y="254.0" width="1.5" height="11.0" fill="#404040"/>
<rect x="740.80" y="255.2" width="2.2" height="8.2" fill="#222"/>
<rect x="743.70" y="262.7" width="1.5" height="3.6" fill="#404040"/>
<rect x="743.35" y="262.7" width="2.2" height="1.5" fill="#222"/>
<rect x="746.25" y="257.0" width="1.5" height="18.0" fill="#404040"/>
<rect x="745.90" y="263.5" width="2.2" height="5.2" fill="#222"/>
<rect x="748.80" y="260.0" width="1.5" height="11.3" fill="#404040"/>
<rect x="748.45" y="264.4" width="2.2" height="4.4" fill="#858585"/>
<rect x="751.35" y="262.7" width="1.5" height="9.4" fill="#404040"/>
<rect x="751.00" y="264.4" width="2.2" height="6.8" fill="#222"/>
<rect x="753.90" y="271.0" width="1.5" height="9.8" fill="#404040"/>
<rect x="753.55" y="271.2" width="2.2" height="6.8" fill="#222"/>
<rect x="756.45" y="272.0" width="1.5" height="11.0" fill="#404040"/>
<rect x="756.10" y="272.1" width="2.2" height="5.9" fill="#858585"/>
<rect x="759.00" y="272.1" width="1.5" height="5.7" fill="#404040"/>
<rect x="758.65" y="272.1" width="2.2" height="5.6" fill="#222"/>
<rect x="761.55" y="274.4" width="1.5" height="3.6" fill="#404040"/>
<rect x="761.20" y="275.6" width="2.2" height="2.1" fill="#858585"/>
<rect x="764.10" y="264.0" width="1.5" height="14.0" fill="#404040"/>
<rect x="763.75" y="266.9" width="2.2" height="8.7" fill="#858585"/>
<rect x="766.65" y="266.7" width="1.5" height="8.3" fill="#404040"/>
<rect x="766.30" y="266.9" width="2.2" height="6.0" fill="#222"/>
<rect x="769.20" y="272.2" width="1.5" height="1.3" fill="#404040"/>
<rect x="768.85" y="271.8" width="2.2" height="1.5" fill="#858585"/>
<rect x="771.75" y="258.0" width="1.5" height="13.0" fill="#404040"/>
<rect x="771.40" y="258.2" width="2.2" height="12.8" fill="#858585"/>
<rect x="774.30" y="269.0" width="1.5" height="10.7" fill="#404040"/>
<rect x="773.95" y="269.0" width="2.2" height="9.9" fill="#222"/>
<rect x="776.85" y="269.0" width="1.5" height="10.5" fill="#404040"/>
<rect x="776.50" y="269.4" width="2.2" height="9.4" fill="#858585"/>
<rect x="779.40" y="269.4" width="1.5" height="12.6" fill="#404040"/>
<rect x="779.05" y="269.4" width="2.2" height="10.6" fill="#222"/>
<rect x="781.95" y="271.7" width="1.5" height="4.3" fill="#404040"/>
<rect x="781.60" y="272.3" width="2.2" height="3.7" fill="#858585"/>
<rect x="784.50" y="271.0" width="1.5" height="3.4" fill="#404040"/>
<rect x="784.15" y="271.5" width="2.2" height="1.5" fill="#222"/>
<rect x="787.05" y="272.2" width="1.5" height="9.8" fill="#404040"/>
<rect x="786.70" y="273.5" width="2.2" height="6.6" fill="#222"/>
<rect x="789.60" y="270.6" width="1.5" height="10.2" fill="#404040"/>
<rect x="789.25" y="272.2" width="2.2" height="7.9" fill="#858585"/>
<rect x="792.15" y="269.0" width="1.5" height="3.7" fill="#404040"/>
<rect x="791.80" y="270.5" width="2.2" height="1.5" fill="#858585"/>
<rect x="794.70" y="278.0" width="1.5" height="13.0" fill="#404040"/>
<rect x="794.35" y="278.0" width="2.2" height="12.1" fill="#222"/>
<rect x="797.25" y="278.8" width="1.5" height="12.2" fill="#404040"/>
<rect x="796.90" y="280.2" width="2.2" height="9.8" fill="#858585"/>
<rect x="799.80" y="275.0" width="1.5" height="21.0" fill="#404040"/>
<rect x="799.45" y="280.2" width="2.2" height="12.1" fill="#222"/>
<rect x="802.35" y="281.1" width="1.5" height="11.9" fill="#404040"/>
<rect x="802.00" y="281.9" width="2.2" height="10.4" fill="#858585"/>
<rect x="804.90" y="275.2" width="1.5" height="4.8" fill="#404040"/>
<rect x="804.55" y="275.5" width="2.2" height="4.5" fill="#858585"/>
<rect x="807.45" y="271.0" width="1.5" height="8.6" fill="#404040"/>
<rect x="807.10" y="275.5" width="2.2" height="2.0" fill="#222"/>
<rect x="810.00" y="272.3" width="1.5" height="3.7" fill="#404040"/>
<rect x="809.65" y="272.9" width="2.2" height="3.1" fill="#858585"/>
<rect x="812.55" y="271.0" width="1.5" height="2.0" fill="#404040"/>
<rect x="812.20" y="271.1" width="2.2" height="1.5" fill="#858585"/>
<rect x="815.10" y="271.0" width="1.5" height="9.0" fill="#404040"/>
<rect x="814.75" y="271.8" width="2.2" height="7.3" fill="#222"/>
<rect x="817.65" y="273.9" width="1.5" height="6.1" fill="#404040"/>
<rect x="817.30" y="274.5" width="2.2" height="4.7" fill="#858585"/>
<rect x="820.20" y="269.0" width="1.5" height="6.0" fill="#404040"/>
<rect x="819.85" y="270.6" width="2.2" height="3.9" fill="#858585"/>
<rect x="822.75" y="262.0" width="1.5" height="11.0" fill="#404040"/>
<rect x="822.40" y="263.3" width="2.2" height="7.3" fill="#858585"/>
</g>
<path d="M2.00 192.30 C3.83 191.25 9.00 188.02 13.00 186.00 C17.00 183.98 21.50 181.17 26.00 180.20 C30.50 179.23 36.00 180.40 40.00 180.20 C44.00 180.00 47.17 178.78 50.00 179.00 C52.83 179.22 54.07 179.67 57.00 181.50 C59.93 183.33 63.77 186.42 67.60 190.00 C71.43 193.58 75.77 198.83 80.00 203.00 C84.23 207.17 87.83 211.77 93.00 215.00 C98.17 218.23 103.83 221.70 111.00 222.40 C118.17 223.10 129.67 218.88 136.00 219.20 C142.33 219.52 144.73 221.75 149.00 224.30 C153.27 226.85 158.10 232.68 161.60 234.50 C165.10 236.32 165.77 235.45 170.00 235.20 C174.23 234.95 182.83 233.15 187.00 233.00 C191.17 232.85 190.27 234.80 195.00 234.30 C199.73 233.80 209.73 232.10 215.40 230.00 C221.07 227.90 224.65 223.63 229.00 221.70 C233.35 219.77 236.50 218.47 241.50 218.40 C246.50 218.33 250.92 221.13 259.00 221.30 C267.08 221.47 280.78 222.22 290.00 219.40 C299.22 216.58 307.50 210.30 314.30 204.40 C321.10 198.50 325.93 188.67 330.80 184.00 C335.67 179.33 339.30 179.40 343.50 176.40 C347.70 173.40 351.75 168.90 356.00 166.00 C360.25 163.10 364.72 159.87 369.00 159.00 C373.28 158.13 376.53 160.30 381.70 160.80 C386.87 161.30 393.55 160.80 400.00 162.00 C406.45 163.20 413.82 167.33 420.40 168.00 C426.98 168.67 433.15 165.57 439.50 166.00 C445.85 166.43 452.15 168.15 458.50 170.60 C464.85 173.05 471.18 177.80 477.60 180.70 C484.02 183.60 490.18 187.53 497.00 188.00 C503.82 188.47 511.10 184.17 518.50 183.50 C525.90 182.83 536.32 182.70 541.40 184.00 C546.48 185.30 545.00 187.97 549.00 191.30 C553.00 194.63 558.43 198.50 565.40 204.00 C572.37 209.50 581.40 218.30 590.80 224.30 C600.20 230.30 613.47 235.48 621.80 240.00 C630.13 244.52 632.55 246.00 640.80 251.40 C649.05 256.80 662.82 269.97 671.30 272.40 C679.78 274.83 685.08 267.23 691.70 266.00 C698.32 264.77 704.08 266.07 711.00 265.00 C717.92 263.93 725.82 260.05 733.20 259.60 C740.58 259.15 748.83 261.40 755.30 262.30 C761.77 263.20 765.08 263.62 772.00 265.00 C778.92 266.38 790.37 269.32 796.80 270.60 C803.23 271.88 806.07 272.47 810.60 272.70 C815.13 272.93 821.77 272.12 824.00 272.00" fill="none" stroke="#ff6868" stroke-width="1" stroke-dasharray="1.1 1.45"/>
<path d="M2.00 237.20 C5.83 235.60 18.67 229.83 25.00 227.60 C31.33 225.37 34.50 225.17 40.00 223.80 C45.50 222.43 52.17 219.82 58.00 219.40 C63.83 218.98 70.50 220.58 75.00 221.30 C79.50 222.02 79.00 223.08 85.00 223.70 C91.00 224.32 102.50 225.00 111.00 225.00 C119.50 225.00 128.00 223.20 136.00 223.70 C144.00 224.20 150.83 227.07 159.00 228.00 C167.17 228.93 176.00 229.22 185.00 229.30 C194.00 229.38 205.67 228.98 213.00 228.50 C220.33 228.02 224.25 227.10 229.00 226.40 C233.75 225.70 236.50 224.53 241.50 224.30 C246.50 224.07 251.32 225.05 259.00 225.00 C266.68 224.95 278.80 225.00 287.60 224.00 C296.40 223.00 302.48 221.83 311.80 219.00 C321.12 216.17 335.03 210.60 343.50 207.00 C351.97 203.40 356.23 199.53 362.60 197.40 C368.97 195.27 375.47 195.27 381.70 194.20 C387.93 193.13 393.55 191.97 400.00 191.00 C406.45 190.03 411.90 189.37 420.40 188.40 C428.90 187.43 442.57 185.52 451.00 185.20 C459.43 184.88 463.38 185.87 471.00 186.50 C478.62 187.13 489.37 188.80 496.70 189.00 C504.03 189.20 509.28 188.08 515.00 187.70 C520.72 187.32 526.60 186.87 531.00 186.70 C535.40 186.53 538.23 186.15 541.40 186.70 C544.57 187.25 543.90 188.18 550.00 190.00 C556.10 191.82 569.08 195.07 578.00 197.60 C586.92 200.13 595.00 202.65 603.50 205.20 C612.00 207.75 621.25 210.27 629.00 212.90 C636.75 215.53 643.17 218.27 650.00 221.00 C656.83 223.73 661.67 226.97 670.00 229.30 C678.33 231.63 691.33 233.65 700.00 235.00 C708.67 236.35 712.78 236.30 722.00 237.40 C731.22 238.50 745.13 240.10 755.30 241.60 C765.47 243.10 773.78 244.90 783.00 246.40 C792.22 247.90 803.77 249.55 810.60 250.60 C817.43 251.65 821.77 252.35 824.00 252.70" fill="none" stroke="#2828ff" stroke-width="1.2"/>
<g>
<rect x="3.85" y="449.9" width="2.0" height="22.9" fill="#8e8e8e"/>
<rect x="6.40" y="449.4" width="2.0" height="23.4" fill="#8e8e8e"/>
<rect x="8.95" y="450.6" width="2.0" height="22.2" fill="#8e8e8e"/>
<rect x="11.50" y="453.8" width="2.0" height="19.0" fill="#8e8e8e"/>
<rect x="14.05" y="458.6" width="2.0" height="14.2" fill="#8e8e8e"/>
<rect x="16.60" y="461.2" width="2.0" height="11.6" fill="#8e8e8e"/>
<rect x="19.15" y="464.4" width="2.0" height="8.4" fill="#8e8e8e"/>
<rect x="21.70" y="460.5" width="2.0" height="12.3" fill="#8e8e8e"/>
<rect x="24.25" y="461.6" width="2.0" height="11.2" fill="#8e8e8e"/>
<rect x="26.80" y="463.6" width="2.0" height="9.2" fill="#8e8e8e"/>
<rect x="29.35" y="468.2" width="2.0" height="4.6" fill="#8e8e8e"/>
<rect x="34.45" y="472.8" width="2.0" height="4.6" fill="#8e8e8e"/>
<rect x="37.00" y="472.8" width="2.0" height="6.8" fill="#8e8e8e"/>
<rect x="39.55" y="472.8" width="2.0" height="5.3" fill="#8e8e8e"/>
<rect x="42.10" y="472.8" width="2.0" height="2.7" fill="#8e8e8e"/>
<rect x="44.65" y="472.8" width="2.0" height="2.7" fill="#8e8e8e"/>
<rect x="47.20" y="472.8" width="2.0" height="2.7" fill="#8e8e8e"/>
<rect x="49.75" y="472.8" width="2.0" height="2.7" fill="#8e8e8e"/>
<rect x="52.30" y="472.8" width="2.0" height="4.5" fill="#8e8e8e"/>
<rect x="54.85" y="472.8" width="2.0" height="8.0" fill="#8e8e8e"/>
<rect x="57.40" y="472.8" width="2.0" height="12.7" fill="#8e8e8e"/>
<rect x="59.95" y="472.8" width="2.0" height="17.9" fill="#8e8e8e"/>
<rect x="62.50" y="472.8" width="2.0" height="22.9" fill="#8e8e8e"/>
<rect x="65.05" y="472.8" width="2.0" height="27.1" fill="#8e8e8e"/>
<rect x="67.60" y="472.8" width="2.0" height="31.4" fill="#8e8e8e"/>
<rect x="70.15" y="472.8" width="2.0" height="33.9" fill="#8e8e8e"/>
<rect x="72.70" y="472.8" width="2.0" height="36.5" fill="#8e8e8e"/>
<rect x="75.25" y="472.8" width="2.0" height="38.9" fill="#8e8e8e"/>
<rect x="77.80" y="472.8" width="2.0" height="40.6" fill="#8e8e8e"/>
<rect x="80.35" y="472.8" width="2.0" height="42.2" fill="#8e8e8e"/>
<rect x="82.90" y="472.8" width="2.0" height="43.1" fill="#8e8e8e"/>
<rect x="85.45" y="472.8" width="2.0" height="43.9" fill="#8e8e8e"/>
<rect x="88.00" y="472.8" width="2.0" height="43.4" fill="#8e8e8e"/>
<rect x="90.55" y="472.8" width="2.0" height="38.7" fill="#8e8e8e"/>
<rect x="93.10" y="472.8" width="2.0" height="30.8" fill="#8e8e8e"/>
<rect x="95.65" y="472.8" width="2.0" height="25.6" fill="#8e8e8e"/>
<rect x="98.20" y="472.8" width="2.0" height="20.5" fill="#8e8e8e"/>
<rect x="100.75" y="472.8" width="2.0" height="19.3" fill="#8e8e8e"/>
<rect x="103.30" y="472.8" width="2.0" height="18.0" fill="#8e8e8e"/>
<rect x="105.85" y="472.8" width="2.0" height="14.4" fill="#8e8e8e"/>
<rect x="108.40" y="472.8" width="2.0" height="10.6" fill="#8e8e8e"/>
<rect x="110.95" y="472.8" width="2.0" height="5.8" fill="#8e8e8e"/>
<rect x="113.50" y="472.8" width="2.0" height="1.2" fill="#8e8e8e"/>
<rect x="116.05" y="466.7" width="2.0" height="6.1" fill="#8e8e8e"/>
<rect x="118.60" y="464.9" width="2.0" height="7.9" fill="#8e8e8e"/>
<rect x="121.15" y="463.3" width="2.0" height="9.5" fill="#8e8e8e"/>
<rect x="123.70" y="462.1" width="2.0" height="10.7" fill="#8e8e8e"/>
<rect x="126.25" y="462.5" width="2.0" height="10.3" fill="#8e8e8e"/>
<rect x="128.80" y="462.9" width="2.0" height="9.9" fill="#8e8e8e"/>
<rect x="131.35" y="463.2" width="2.0" height="9.6" fill="#8e8e8e"/>
<rect x="133.90" y="463.6" width="2.0" height="9.2" fill="#8e8e8e"/>
<rect x="136.45" y="464.6" width="2.0" height="8.2" fill="#8e8e8e"/>
<rect x="139.00" y="467.5" width="2.0" height="5.3" fill="#8e8e8e"/>
<rect x="141.55" y="470.6" width="2.0" height="2.2" fill="#8e8e8e"/>
<rect x="144.10" y="472.8" width="2.0" height="2.5" fill="#8e8e8e"/>
<rect x="146.65" y="472.8" width="2.0" height="8.2" fill="#8e8e8e"/>
<rect x="149.20" y="472.8" width="2.0" height="13.3" fill="#8e8e8e"/>
<rect x="151.75" y="472.8" width="2.0" height="18.3" fill="#8e8e8e"/>
<rect x="154.30" y="472.8" width="2.0" height="21.5" fill="#8e8e8e"/>
<rect x="156.85" y="472.8" width="2.0" height="24.5" fill="#8e8e8e"/>
<rect x="159.40" y="472.8" width="2.0" height="22.6" fill="#8e8e8e"/>
<rect x="161.95" y="472.8" width="2.0" height="18.6" fill="#8e8e8e"/>
<rect x="164.50" y="472.8" width="2.0" height="13.2" fill="#8e8e8e"/>
<rect x="167.05" y="472.8" width="2.0" height="8.1" fill="#8e8e8e"/>
<rect x="169.60" y="472.8" width="2.0" height="4.6" fill="#8e8e8e"/>
<rect x="172.15" y="472.8" width="2.0" height="2.1" fill="#8e8e8e"/>
<rect x="174.70" y="469.8" width="2.0" height="3.0" fill="#8e8e8e"/>
<rect x="177.25" y="464.2" width="2.0" height="8.6" fill="#8e8e8e"/>
<rect x="179.80" y="461.4" width="2.0" height="11.4" fill="#8e8e8e"/>
<rect x="182.35" y="464.2" width="2.0" height="8.6" fill="#8e8e8e"/>
<rect x="184.90" y="469.6" width="2.0" height="3.2" fill="#8e8e8e"/>
<rect x="190.00" y="470.8" width="2.0" height="2.0" fill="#8e8e8e"/>
<rect x="192.55" y="470.0" width="2.0" height="2.8" fill="#8e8e8e"/>
<rect x="195.10" y="469.1" width="2.0" height="3.7" fill="#8e8e8e"/>
<rect x="197.65" y="468.3" width="2.0" height="4.5" fill="#8e8e8e"/>
<rect x="200.20" y="467.5" width="2.0" height="5.3" fill="#8e8e8e"/>
<rect x="202.75" y="466.2" width="2.0" height="6.6" fill="#8e8e8e"/>
<rect x="205.30" y="464.9" width="2.0" height="7.9" fill="#8e8e8e"/>
<rect x="207.85" y="463.6" width="2.0" height="9.2" fill="#8e8e8e"/>
<rect x="210.40" y="462.4" width="2.0" height="10.4" fill="#8e8e8e"/>
<rect x="212.95" y="460.8" width="2.0" height="12.0" fill="#8e8e8e"/>
<rect x="215.50" y="459.2" width="2.0" height="13.6" fill="#8e8e8e"/>
<rect x="218.05" y="457.7" width="2.0" height="15.1" fill="#8e8e8e"/>
<rect x="220.60" y="455.5" width="2.0" height="17.3" fill="#8e8e8e"/>
<rect x="223.15" y="453.2" width="2.0" height="19.6" fill="#8e8e8e"/>
<rect x="225.70" y="451.3" width="2.0" height="21.5" fill="#8e8e8e"/>
<rect x="228.25" y="452.1" width="2.0" height="20.7" fill="#8e8e8e"/>
<rect x="230.80" y="453.0" width="2.0" height="19.8" fill="#8e8e8e"/>
<rect x="233.35" y="454.3" width="2.0" height="18.5" fill="#8e8e8e"/>
<rect x="235.90" y="455.6" width="2.0" height="17.2" fill="#8e8e8e"/>
<rect x="238.45" y="459.4" width="2.0" height="13.4" fill="#8e8e8e"/>
<rect x="241.00" y="463.7" width="2.0" height="9.1" fill="#8e8e8e"/>
<rect x="243.55" y="469.1" width="2.0" height="3.7" fill="#8e8e8e"/>
<rect x="246.10" y="472.8" width="2.0" height="1.5" fill="#8e8e8e"/>
<rect x="248.65" y="472.8" width="2.0" height="5.9" fill="#8e8e8e"/>
<rect x="251.20" y="472.8" width="2.0" height="8.6" fill="#8e8e8e"/>
<rect x="253.75" y="472.8" width="2.0" height="11.2" fill="#8e8e8e"/>
<rect x="256.30" y="472.8" width="2.0" height="11.0" fill="#8e8e8e"/>
<rect x="258.85" y="472.8" width="2.0" height="10.1" fill="#8e8e8e"/>
<rect x="261.40" y="472.8" width="2.0" height="9.4" fill="#8e8e8e"/>
<rect x="263.95" y="472.8" width="2.0" height="8.8" fill="#8e8e8e"/>
<rect x="266.50" y="472.8" width="2.0" height="8.2" fill="#8e8e8e"/>
<rect x="269.05" y="472.8" width="2.0" height="5.4" fill="#8e8e8e"/>
<rect x="271.60" y="472.8" width="2.0" height="2.4" fill="#8e8e8e"/>
<rect x="276.70" y="470.8" width="2.0" height="2.0" fill="#8e8e8e"/>
<rect x="279.25" y="468.6" width="2.0" height="4.2" fill="#8e8e8e"/>
<rect x="281.80" y="466.5" width="2.0" height="6.3" fill="#8e8e8e"/>
<rect x="284.35" y="466.6" width="2.0" height="6.2" fill="#8e8e8e"/>
<rect x="286.90" y="468.3" width="2.0" height="4.5" fill="#8e8e8e"/>
<rect x="289.45" y="466.9" width="2.0" height="5.9" fill="#8e8e8e"/>
<rect x="292.00" y="461.8" width="2.0" height="11.0" fill="#8e8e8e"/>
<rect x="294.55" y="457.7" width="2.0" height="15.1" fill="#8e8e8e"/>
<rect x="297.10" y="455.6" width="2.0" height="17.2" fill="#8e8e8e"/>
<rect x="299.65" y="453.8" width="2.0" height="19.0" fill="#8e8e8e"/>
<rect x="302.20" y="453.5" width="2.0" height="19.3" fill="#8e8e8e"/>
<rect x="304.75" y="453.2" width="2.0" height="19.6" fill="#8e8e8e"/>
<rect x="307.30" y="452.6" width="2.0" height="20.2" fill="#8e8e8e"/>
<rect x="309.85" y="451.8" width="2.0" height="21.0" fill="#8e8e8e"/>
<rect x="312.40" y="449.8" width="2.0" height="23.0" fill="#8e8e8e"/>
<rect x="314.95" y="445.4" width="2.0" height="27.4" fill="#8e8e8e"/>
<rect x="317.50" y="436.9" width="2.0" height="35.9" fill="#8e8e8e"/>
<rect x="320.05" y="432.4" width="2.0" height="40.4" fill="#8e8e8e"/>
<rect x="322.60" y="432.4" width="2.0" height="40.4" fill="#8e8e8e"/>
<rect x="325.15" y="432.4" width="2.0" height="40.4" fill="#8e8e8e"/>
<rect x="327.70" y="433.3" width="2.0" height="39.5" fill="#8e8e8e"/>
<rect x="330.25" y="435.3" width="2.0" height="37.5" fill="#8e8e8e"/>
<rect x="332.80" y="438.4" width="2.0" height="34.4" fill="#8e8e8e"/>
<rect x="335.35" y="443.0" width="2.0" height="29.8" fill="#8e8e8e"/>
<rect x="337.90" y="447.6" width="2.0" height="25.2" fill="#8e8e8e"/>
<rect x="340.45" y="451.9" width="2.0" height="20.9" fill="#8e8e8e"/>
<rect x="343.00" y="456.2" width="2.0" height="16.6" fill="#8e8e8e"/>
<rect x="345.55" y="455.1" width="2.0" height="17.7" fill="#8e8e8e"/>
<rect x="348.10" y="451.7" width="2.0" height="21.1" fill="#8e8e8e"/>
<rect x="350.65" y="449.2" width="2.0" height="23.6" fill="#8e8e8e"/>
<rect x="353.20" y="447.3" width="2.0" height="25.5" fill="#8e8e8e"/>
<rect x="355.75" y="445.5" width="2.0" height="27.3" fill="#8e8e8e"/>
<rect x="358.30" y="446.6" width="2.0" height="26.2" fill="#8e8e8e"/>
<rect x="360.85" y="448.7" width="2.0" height="24.1" fill="#8e8e8e"/>
<rect x="363.40" y="453.2" width="2.0" height="19.6" fill="#8e8e8e"/>
<rect x="365.95" y="459.5" width="2.0" height="13.3" fill="#8e8e8e"/>
<rect x="368.50" y="467.1" width="2.0" height="5.7" fill="#8e8e8e"/>
<rect x="373.60" y="472.8" width="2.0" height="4.8" fill="#8e8e8e"/>
<rect x="376.15" y="472.8" width="2.0" height="9.0" fill="#8e8e8e"/>
<rect x="378.70" y="472.8" width="2.0" height="11.6" fill="#8e8e8e"/>
<rect x="381.25" y="472.8" width="2.0" height="11.3" fill="#8e8e8e"/>
<rect x="383.80" y="472.8" width="2.0" height="11.0" fill="#8e8e8e"/>
<rect x="386.35" y="472.8" width="2.0" height="10.8" fill="#8e8e8e"/>
<rect x="388.90" y="472.8" width="2.0" height="10.1" fill="#8e8e8e"/>
<rect x="391.45" y="472.8" width="2.0" height="9.4" fill="#8e8e8e"/>
<rect x="394.00" y="472.8" width="2.0" height="8.6" fill="#8e8e8e"/>
<rect x="396.55" y="472.8" width="2.0" height="8.4" fill="#8e8e8e"/>
<rect x="399.10" y="472.8" width="2.0" height="9.4" fill="#8e8e8e"/>
<rect x="401.65" y="472.8" width="2.0" height="10.4" fill="#8e8e8e"/>
<rect x="404.20" y="472.8" width="2.0" height="11.5" fill="#8e8e8e"/>
<rect x="406.75" y="472.8" width="2.0" height="13.6" fill="#8e8e8e"/>
<rect x="409.30" y="472.8" width="2.0" height="16.1" fill="#8e8e8e"/>
<rect x="411.85" y="472.8" width="2.0" height="15.9" fill="#8e8e8e"/>
<rect x="414.40" y="472.8" width="2.0" height="14.2" fill="#8e8e8e"/>
<rect x="416.95" y="472.8" width="2.0" height="13.1" fill="#8e8e8e"/>
<rect x="419.50" y="472.8" width="2.0" height="12.5" fill="#8e8e8e"/>
<rect x="422.05" y="472.8" width="2.0" height="11.9" fill="#8e8e8e"/>
<rect x="424.60" y="472.8" width="2.0" height="9.2" fill="#8e8e8e"/>
<rect x="427.15" y="472.8" width="2.0" height="5.6" fill="#8e8e8e"/>
<rect x="429.70" y="472.8" width="2.0" height="2.1" fill="#8e8e8e"/>
<rect x="432.25" y="472.8" width="2.0" height="0.6" fill="#8e8e8e"/>
<rect x="434.80" y="471.8" width="2.0" height="1.0" fill="#8e8e8e"/>
<rect x="437.35" y="469.9" width="2.0" height="2.9" fill="#8e8e8e"/>
<rect x="439.90" y="468.0" width="2.0" height="4.8" fill="#8e8e8e"/>
<rect x="442.45" y="468.3" width="2.0" height="4.5" fill="#8e8e8e"/>
<rect x="445.00" y="469.6" width="2.0" height="3.2" fill="#8e8e8e"/>
<rect x="447.55" y="470.8" width="2.0" height="2.0" fill="#8e8e8e"/>
<rect x="452.65" y="472.8" width="2.0" height="2.0" fill="#8e8e8e"/>
<rect x="455.20" y="472.8" width="2.0" height="4.6" fill="#8e8e8e"/>
<rect x="457.75" y="472.8" width="2.0" height="8.4" fill="#8e8e8e"/>
<rect x="460.30" y="472.8" width="2.0" height="12.2" fill="#8e8e8e"/>
<rect x="462.85" y="472.8" width="2.0" height="15.5" fill="#8e8e8e"/>
<rect x="465.40" y="472.8" width="2.0" height="17.1" fill="#8e8e8e"/>
<rect x="467.95" y="472.8" width="2.0" height="18.6" fill="#8e8e8e"/>
<rect x="470.50" y="472.8" width="2.0" height="20.2" fill="#8e8e8e"/>
<rect x="473.05" y="472.8" width="2.0" height="20.1" fill="#8e8e8e"/>
<rect x="475.60" y="472.8" width="2.0" height="19.5" fill="#8e8e8e"/>
<rect x="478.15" y="472.8" width="2.0" height="18.9" fill="#8e8e8e"/>
<rect x="480.70" y="472.8" width="2.0" height="17.4" fill="#8e8e8e"/>
<rect x="483.25" y="472.8" width="2.0" height="15.8" fill="#8e8e8e"/>
<rect x="485.80" y="472.8" width="2.0" height="14.3" fill="#8e8e8e"/>
<rect x="488.35" y="472.8" width="2.0" height="14.0" fill="#8e8e8e"/>
<rect x="490.90" y="472.8" width="2.0" height="13.8" fill="#8e8e8e"/>
<rect x="493.45" y="472.8" width="2.0" height="13.5" fill="#8e8e8e"/>
<rect x="496.00" y="472.8" width="2.0" height="11.2" fill="#8e8e8e"/>
<rect x="498.55" y="472.8" width="2.0" height="7.1" fill="#8e8e8e"/>
<rect x="501.10" y="472.8" width="2.0" height="2.4" fill="#8e8e8e"/>
<rect x="503.65" y="471.6" width="2.0" height="1.2" fill="#8e8e8e"/>
<rect x="506.20" y="468.4" width="2.0" height="4.4" fill="#8e8e8e"/>
<rect x="508.75" y="464.2" width="2.0" height="8.6" fill="#8e8e8e"/>
<rect x="511.30" y="460.1" width="2.0" height="12.7" fill="#8e8e8e"/>
<rect x="513.85" y="456.4" width="2.0" height="16.4" fill="#8e8e8e"/>
<rect x="516.40" y="456.8" width="2.0" height="16.0" fill="#8e8e8e"/>
<rect x="518.95" y="460.3" width="2.0" height="12.5" fill="#8e8e8e"/>
<rect x="521.50" y="463.4" width="2.0" height="9.4" fill="#8e8e8e"/>
<rect x="524.05" y="466.4" width="2.0" height="6.4" fill="#8e8e8e"/>
<rect x="526.60" y="467.8" width="2.0" height="5.0" fill="#8e8e8e"/>
<rect x="529.15" y="468.5" width="2.0" height="4.3" fill="#8e8e8e"/>
<rect x="531.70" y="469.1" width="2.0" height="3.7" fill="#8e8e8e"/>
<rect x="534.25" y="469.6" width="2.0" height="3.2" fill="#8e8e8e"/>
<rect x="536.80" y="470.0" width="2.0" height="2.8" fill="#8e8e8e"/>
<rect x="539.35" y="471.0" width="2.0" height="1.8" fill="#8e8e8e"/>
<rect x="541.90" y="472.8" width="2.0" height="1.5" fill="#8e8e8e"/>
<rect x="544.45" y="472.8" width="2.0" height="10.8" fill="#8e8e8e"/>
<rect x="547.00" y="472.8" width="2.0" height="20.6" fill="#8e8e8e"/>
<rect x="549.55" y="472.8" width="2.0" height="28.0" fill="#8e8e8e"/>
<rect x="552.10" y="472.8" width="2.0" height="29.6" fill="#8e8e8e"/>
<rect x="554.65" y="472.8" width="2.0" height="29.6" fill="#8e8e8e"/>
<rect x="557.20" y="472.8" width="2.0" height="29.6" fill="#8e8e8e"/>
<rect x="559.75" y="472.8" width="2.0" height="30.0" fill="#8e8e8e"/>
<rect x="562.30" y="472.8" width="2.0" height="30.4" fill="#8e8e8e"/>
<rect x="564.85" y="472.8" width="2.0" height="30.9" fill="#8e8e8e"/>
<rect x="567.40" y="472.8" width="2.0" height="31.3" fill="#8e8e8e"/>
<rect x="569.95" y="472.8" width="2.0" height="31.7" fill="#8e8e8e"/>
<rect x="572.50" y="472.8" width="2.0" height="32.2" fill="#8e8e8e"/>
<rect x="575.05" y="472.8" width="2.0" height="31.7" fill="#8e8e8e"/>
<rect x="577.60" y="472.8" width="2.0" height="30.7" fill="#8e8e8e"/>
<rect x="580.15" y="472.8" width="2.0" height="29.8" fill="#8e8e8e"/>
<rect x="582.70" y="472.8" width="2.0" height="27.5" fill="#8e8e8e"/>
<rect x="585.25" y="472.8" width="2.0" height="24.9" fill="#8e8e8e"/>
<rect x="587.80" y="472.8" width="2.0" height="22.4" fill="#8e8e8e"/>
<rect x="590.35" y="472.8" width="2.0" height="19.2" fill="#8e8e8e"/>
<rect x="592.90" y="472.8" width="2.0" height="15.9" fill="#8e8e8e"/>
<rect x="595.45" y="472.8" width="2.0" height="13.3" fill="#8e8e8e"/>
<rect x="598.00" y="472.8" width="2.0" height="13.0" fill="#8e8e8e"/>
<rect x="600.55" y="472.8" width="2.0" height="12.7" fill="#8e8e8e"/>
<rect x="603.10" y="472.8" width="2.0" height="13.0" fill="#8e8e8e"/>
<rect x="605.65" y="472.8" width="2.0" height="14.3" fill="#8e8e8e"/>
<rect x="608.20" y="472.8" width="2.0" height="15.6" fill="#8e8e8e"/>
<rect x="610.75" y="472.8" width="2.0" height="15.5" fill="#8e8e8e"/>
<rect x="613.30" y="472.8" width="2.0" height="14.1" fill="#8e8e8e"/>
<rect x="615.85" y="472.8" width="2.0" height="12.8" fill="#8e8e8e"/>
<rect x="618.40" y="472.8" width="2.0" height="11.9" fill="#8e8e8e"/>
<rect x="620.95" y="472.8" width="2.0" height="11.0" fill="#8e8e8e"/>
<rect x="623.50" y="472.8" width="2.0" height="10.9" fill="#8e8e8e"/>
<rect x="626.05" y="472.8" width="2.0" height="11.2" fill="#8e8e8e"/>
<rect x="628.60" y="472.8" width="2.0" height="11.5" fill="#8e8e8e"/>
<rect x="631.15" y="472.8" width="2.0" height="12.0" fill="#8e8e8e"/>
<rect x="633.70" y="472.8" width="2.0" height="14.2" fill="#8e8e8e"/>
<rect x="636.25" y="472.8" width="2.0" height="16.4" fill="#8e8e8e"/>
<rect x="638.80" y="472.8" width="2.0" height="18.0" fill="#8e8e8e"/>
<rect x="641.35" y="472.8" width="2.0" height="18.5" fill="#8e8e8e"/>
<rect x="643.90" y="472.8" width="2.0" height="19.1" fill="#8e8e8e"/>
<rect x="646.45" y="472.8" width="2.0" height="20.3" fill="#8e8e8e"/>
<rect x="649.00" y="472.8" width="2.0" height="21.6" fill="#8e8e8e"/>
<rect x="651.55" y="472.8" width="2.0" height="22.9" fill="#8e8e8e"/>
<rect x="654.10" y="472.8" width="2.0" height="24.1" fill="#8e8e8e"/>
<rect x="656.65" y="472.8" width="2.0" height="25.4" fill="#8e8e8e"/>
<rect x="659.20" y="472.8" width="2.0" height="26.3" fill="#8e8e8e"/>
<rect x="661.75" y="472.8" width="2.0" height="26.8" fill="#8e8e8e"/>
<rect x="664.30" y="472.8" width="2.0" height="25.6" fill="#8e8e8e"/>
<rect x="666.85" y="472.8" width="2.0" height="23.3" fill="#8e8e8e"/>
<rect x="669.40" y="472.8" width="2.0" height="14.5" fill="#8e8e8e"/>
<rect x="671.95" y="472.8" width="2.0" height="4.1" fill="#8e8e8e"/>
<rect x="674.50" y="469.6" width="2.0" height="3.2" fill="#8e8e8e"/>
<rect x="677.05" y="464.8" width="2.0" height="8.0" fill="#8e8e8e"/>
<rect x="679.60" y="460.7" width="2.0" height="12.1" fill="#8e8e8e"/>
<rect x="682.15" y="458.6" width="2.0" height="14.2" fill="#8e8e8e"/>
<rect x="684.70" y="456.5" width="2.0" height="16.3" fill="#8e8e8e"/>
<rect x="687.25" y="455.2" width="2.0" height="17.6" fill="#8e8e8e"/>
<rect x="689.80" y="453.9" width="2.0" height="18.9" fill="#8e8e8e"/>
<rect x="692.35" y="454.5" width="2.0" height="18.3" fill="#8e8e8e"/>
<rect x="694.90" y="457.6" width="2.0" height="15.2" fill="#8e8e8e"/>
<rect x="697.45" y="462.3" width="2.0" height="10.5" fill="#8e8e8e"/>
<rect x="700.00" y="464.4" width="2.0" height="8.4" fill="#8e8e8e"/>
<rect x="702.55" y="466.5" width="2.0" height="6.3" fill="#8e8e8e"/>
<rect x="705.10" y="468.2" width="2.0" height="4.6" fill="#8e8e8e"/>
<rect x="707.65" y="469.9" width="2.0" height="2.9" fill="#8e8e8e"/>
<rect x="710.20" y="469.0" width="2.0" height="3.8" fill="#8e8e8e"/>
<rect x="712.75" y="467.7" width="2.0" height="5.1" fill="#8e8e8e"/>
<rect x="715.30" y="465.7" width="2.0" height="7.1" fill="#8e8e8e"/>
<rect x="717.85" y="463.5" width="2.0" height="9.3" fill="#8e8e8e"/>
<rect x="720.40" y="460.5" width="2.0" height="12.3" fill="#8e8e8e"/>
<rect x="722.95" y="457.1" width="2.0" height="15.7" fill="#8e8e8e"/>
<rect x="725.50" y="456.4" width="2.0" height="16.4" fill="#8e8e8e"/>
<rect x="728.05" y="457.7" width="2.0" height="15.1" fill="#8e8e8e"/>
<rect x="730.60" y="460.0" width="2.0" height="12.8" fill="#8e8e8e"/>
<rect x="733.15" y="463.4" width="2.0" height="9.4" fill="#8e8e8e"/>
<rect x="735.70" y="466.4" width="2.0" height="6.4" fill="#8e8e8e"/>
<rect x="738.25" y="468.5" width="2.0" height="4.3" fill="#8e8e8e"/>
<rect x="740.80" y="470.5" width="2.0" height="2.3" fill="#8e8e8e"/>
<rect x="743.35" y="472.0" width="2.0" height="0.8" fill="#8e8e8e"/>
<rect x="745.90" y="472.8" width="2.0" height="1.4" fill="#8e8e8e"/>
<rect x="748.45" y="472.8" width="2.0" height="4.5" fill="#8e8e8e"/>
<rect x="751.00" y="472.8" width="2.0" height="6.7" fill="#8e8e8e"/>
<rect x="753.55" y="472.8" width="2.0" height="8.6" fill="#8e8e8e"/>
<rect x="756.10" y="472.8" width="2.0" height="10.6" fill="#8e8e8e"/>
<rect x="758.65" y="472.8" width="2.0" height="10.4" fill="#8e8e8e"/>
<rect x="761.20" y="472.8" width="2.0" height="10.0" fill="#8e8e8e"/>
<rect x="763.75" y="472.8" width="2.0" height="8.5" fill="#8e8e8e"/>
<rect x="766.30" y="472.8" width="2.0" height="6.7" fill="#8e8e8e"/>
<rect x="768.85" y="472.8" width="2.0" height="6.2" fill="#8e8e8e"/>
<rect x="771.40" y="472.8" width="2.0" height="6.2" fill="#8e8e8e"/>
<rect x="773.95" y="472.8" width="2.0" height="6.2" fill="#8e8e8e"/>
<rect x="776.50" y="472.8" width="2.0" height="6.0" fill="#8e8e8e"/>
<rect x="779.05" y="472.8" width="2.0" height="5.8" fill="#8e8e8e"/>
<rect x="781.60" y="472.8" width="2.0" height="5.7" fill="#8e8e8e"/>
<rect x="784.15" y="472.8" width="2.0" height="5.5" fill="#8e8e8e"/>
<rect x="786.70" y="472.8" width="2.0" height="5.7" fill="#8e8e8e"/>
<rect x="789.25" y="472.8" width="2.0" height="6.2" fill="#8e8e8e"/>
<rect x="791.80" y="472.8" width="2.0" height="6.7" fill="#8e8e8e"/>
<rect x="794.35" y="472.8" width="2.0" height="7.3" fill="#8e8e8e"/>
<rect x="796.90" y="472.8" width="2.0" height="8.6" fill="#8e8e8e"/>
<rect x="799.45" y="472.8" width="2.0" height="9.8" fill="#8e8e8e"/>
<rect x="802.00" y="472.8" width="2.0" height="10.3" fill="#8e8e8e"/>
<rect x="804.55" y="472.8" width="2.0" height="9.1" fill="#8e8e8e"/>
<rect x="807.10" y="472.8" width="2.0" height="7.8" fill="#8e8e8e"/>
<rect x="809.65" y="472.8" width="2.0" height="6.1" fill="#8e8e8e"/>
<rect x="812.20" y="472.8" width="2.0" height="3.9" fill="#8e8e8e"/>
<rect x="814.75" y="472.8" width="2.0" height="1.6" fill="#8e8e8e"/>
<rect x="819.85" y="471.4" width="2.0" height="1.4" fill="#8e8e8e"/>
<rect x="822.40" y="470.0" width="2.0" height="2.8" fill="#8e8e8e"/>
</g>
<path d="M2.00 450.30 C2.87 450.15 4.53 448.78 7.20 449.40 C9.87 450.02 14.70 452.35 18.00 454.00 C21.30 455.65 24.00 456.92 27.00 459.30 C30.00 461.68 33.62 465.75 36.00 468.30 C38.38 470.85 39.22 473.25 41.30 474.60 C43.38 475.95 46.40 475.95 48.50 476.40 C50.60 476.85 51.52 475.37 53.90 477.30 C56.28 479.23 59.82 484.12 62.80 488.00 C65.78 491.88 68.80 496.70 71.80 500.60 C74.80 504.50 78.40 509.00 80.80 511.40 C83.20 513.80 84.10 514.70 86.20 515.00 C88.30 515.30 91.02 515.00 93.40 513.20 C95.78 511.40 98.12 507.50 100.50 504.20 C102.88 500.90 105.00 497.60 107.70 493.40 C110.40 489.20 113.70 483.48 116.70 479.00 C119.70 474.52 123.00 469.18 125.70 466.50 C128.40 463.82 130.22 463.05 132.90 462.90 C135.58 462.75 139.12 463.50 141.80 465.60 C144.48 467.70 146.60 472.05 149.00 475.50 C151.40 478.95 154.10 483.17 156.20 486.30 C158.30 489.43 160.13 493.12 161.60 494.30 C163.07 495.48 162.93 495.03 165.00 493.40 C167.07 491.77 171.00 488.53 174.00 484.50 C177.00 480.47 180.33 472.05 183.00 469.20 C185.67 466.35 187.00 467.25 190.00 467.40 C193.00 467.55 196.18 470.85 201.00 470.10 C205.82 469.35 213.53 465.60 218.90 462.90 C224.27 460.20 229.62 455.55 233.20 453.90 C236.78 452.25 238.00 451.80 240.40 453.00 C242.80 454.20 245.20 457.35 247.60 461.10 C250.00 464.85 251.82 471.77 254.80 475.50 C257.78 479.23 261.92 483.20 265.50 483.50 C269.08 483.80 272.10 480.13 276.30 477.30 C280.50 474.47 285.32 470.40 290.70 466.50 C296.08 462.60 304.12 456.90 308.60 453.90 C313.08 450.90 314.60 451.18 317.60 448.50 C320.60 445.82 323.70 440.05 326.60 437.80 C329.50 435.55 332.93 434.70 335.00 435.00 C337.07 435.30 336.83 437.05 339.00 439.60 C341.17 442.15 345.62 448.22 348.00 450.30 C350.38 452.38 350.92 452.70 353.30 452.10 C355.68 451.50 359.60 446.70 362.30 446.70 C365.00 446.70 367.10 448.80 369.50 452.10 C371.90 455.40 374.62 462.30 376.70 466.50 C378.78 470.70 379.92 474.47 382.00 477.30 C384.08 480.13 385.90 482.60 389.20 483.50 C392.50 484.40 398.20 482.40 401.80 482.70 C405.40 483.00 407.80 484.57 410.80 485.30 C413.80 486.03 416.82 487.53 419.80 487.10 C422.78 486.67 425.72 484.78 428.70 482.70 C431.68 480.62 434.70 476.70 437.70 474.60 C440.70 472.50 444.00 470.55 446.70 470.10 C449.40 469.65 450.92 469.50 453.90 471.90 C456.88 474.30 461.32 481.07 464.60 484.50 C467.88 487.93 470.60 491.47 473.60 492.50 C476.60 493.53 479.60 491.45 482.60 490.70 C485.60 489.95 488.70 488.90 491.60 488.00 C494.50 487.10 497.93 486.48 500.00 485.30 C502.07 484.12 501.83 483.43 504.00 480.90 C506.17 478.37 510.00 473.55 513.00 470.10 C516.00 466.65 519.00 461.25 522.00 460.20 C525.00 459.15 527.72 462.00 531.00 463.80 C534.28 465.60 538.72 467.85 541.70 471.00 C544.68 474.15 546.22 477.77 548.90 482.70 C551.58 487.63 554.82 497.17 557.80 500.60 C560.78 504.03 563.80 502.70 566.80 503.30 C569.80 503.90 572.80 504.50 575.80 504.20 C578.80 503.90 581.82 503.30 584.80 501.50 C587.78 499.70 590.72 495.95 593.70 493.40 C596.68 490.85 599.70 487.40 602.70 486.20 C605.70 485.00 608.70 486.35 611.70 486.20 C614.70 486.05 617.72 485.58 620.70 485.30 C623.68 485.02 626.62 484.35 629.60 484.50 C632.58 484.65 635.60 485.32 638.60 486.20 C641.60 487.08 644.60 488.30 647.60 489.80 C650.60 491.30 654.08 493.70 656.60 495.20 C659.12 496.70 660.33 498.95 662.70 498.80 C665.07 498.65 668.25 497.60 670.80 494.30 C673.35 491.00 675.92 483.78 678.00 479.00 C680.08 474.22 680.92 469.33 683.30 465.60 C685.68 461.87 689.30 457.35 692.30 456.60 C695.30 455.85 698.30 459.15 701.30 461.10 C704.30 463.05 707.32 467.40 710.30 468.30 C713.28 469.20 715.62 468.15 719.20 466.50 C722.78 464.85 728.20 459.30 731.80 458.40 C735.40 457.50 737.80 458.70 740.80 461.10 C743.80 463.50 746.52 469.50 749.80 472.80 C753.08 476.10 756.92 479.87 760.50 480.90 C764.08 481.93 767.10 479.45 771.30 479.00 C775.50 478.55 781.22 478.03 785.70 478.20 C790.18 478.37 794.32 479.40 798.20 480.00 C802.08 480.60 805.10 482.70 809.00 481.80 C812.90 480.90 819.50 475.80 821.60 474.60" fill="none" stroke="#ff6868" stroke-width="1" stroke-dasharray="1.1 1.45"/>
<g shape-rendering="crispEdges">
<rect x="0" y="0" width="953" height="1" fill="#e6e6e6"/>
<rect x="0" y="1" width="953" height="2" fill="#868e86"/>
<rect x="0" y="0" width="2" height="535" fill="#9a9a9a"/>
<rect x="952" y="0" width="1" height="535" fill="#dcdcdc"/>
<rect x="0" y="534" width="953" height="1" fill="#8c8c8c"/>
<rect x="397" y="534" width="50" height="1" fill="#f4f4f4"/>
<rect x="918" y="3" width="1" height="520" fill="#707070"/>
<rect x="2" y="425" width="917" height="2" fill="#7a827a"/>
<rect x="2" y="522" width="917" height="1" fill="#707070"/>
</g>
<g shape-rendering="crispEdges">
<rect x="919" y="26" width="2" height="1" fill="#8a8a8a"/>
<rect x="919" y="81" width="2" height="1" fill="#8a8a8a"/>
<rect x="919" y="108" width="2" height="1" fill="#8a8a8a"/>
<rect x="919" y="136" width="2" height="1" fill="#8a8a8a"/>
<rect x="919" y="164" width="2" height="1" fill="#8a8a8a"/>
<rect x="919" y="191" width="2" height="1" fill="#8a8a8a"/>
<rect x="919" y="218" width="2" height="1" fill="#8a8a8a"/>
<rect x="919" y="245" width="2" height="1" fill="#8a8a8a"/>
<rect x="919" y="273" width="2" height="1" fill="#8a8a8a"/>
<rect x="919" y="301" width="2" height="1" fill="#8a8a8a"/>
<rect x="919" y="328" width="2" height="1" fill="#8a8a8a"/>
<rect x="919" y="355" width="2" height="1" fill="#8a8a8a"/>
<rect x="919" y="383" width="2" height="1" fill="#8a8a8a"/>
<rect x="919" y="410" width="2" height="1" fill="#8a8a8a"/>
</g>
<rect x="919" y="50.6" width="29.8" height="7.3" fill="#0000ff"/>
<rect x="919" y="92.6" width="29.8" height="7.3" fill="#0000ff"/>
<rect x="919" y="145.9" width="29.8" height="7.3" fill="#0000ff"/>
<rect x="919" y="201.6" width="29.8" height="7.3" fill="#0000ff"/>
<rect x="919" y="282.6" width="29.8" height="7.3" fill="#0000ff"/>
<rect x="919" y="360.6" width="29.8" height="7.3" fill="#0000ff"/>
<rect x="919" y="261.6" width="29.8" height="7.2" fill="#000"/>
<text x="921.8" y="29.0" textLength="25.2" lengthAdjust="spacingAndGlyphs" style="fill:#000;font-size:6.8px">23625.20</text>
<text x="921.8" y="84.15" textLength="25.2" lengthAdjust="spacingAndGlyphs" style="fill:#000;font-size:6.8px">22952.00</text>
<text x="921.8" y="111.30000000000001" textLength="25.2" lengthAdjust="spacingAndGlyphs" style="fill:#000;font-size:6.8px">22620.50</text>
<text x="921.8" y="138.88" textLength="25.2" lengthAdjust="spacingAndGlyphs" style="fill:#000;font-size:6.8px">22283.90</text>
<text x="921.8" y="166.45000000000002" textLength="25.2" lengthAdjust="spacingAndGlyphs" style="fill:#000;font-size:6.8px">21947.30</text>
<text x="921.8" y="193.61" textLength="25.2" lengthAdjust="spacingAndGlyphs" style="fill:#000;font-size:6.8px">21615.80</text>
<text x="921.8" y="221.18" textLength="25.2" lengthAdjust="spacingAndGlyphs" style="fill:#000;font-size:6.8px">21279.20</text>
<text x="921.8" y="248.34" textLength="25.2" lengthAdjust="spacingAndGlyphs" style="fill:#000;font-size:6.8px">20947.70</text>
<text x="921.8" y="275.90999999999997" textLength="25.2" lengthAdjust="spacingAndGlyphs" style="fill:#000;font-size:6.8px">20611.10</text>
<text x="921.8" y="303.47999999999996" textLength="25.2" lengthAdjust="spacingAndGlyphs" style="fill:#000;font-size:6.8px">20274.50</text>
<text x="921.8" y="330.64" textLength="25.2" lengthAdjust="spacingAndGlyphs" style="fill:#000;font-size:6.8px">19943.00</text>
<text x="921.8" y="358.21" textLength="25.2" lengthAdjust="spacingAndGlyphs" style="fill:#000;font-size:6.8px">19606.40</text>
<text x="921.8" y="385.78" textLength="25.2" lengthAdjust="spacingAndGlyphs" style="fill:#000;font-size:6.8px">19269.80</text>
<text x="921.8" y="412.94" textLength="25.2" lengthAdjust="spacingAndGlyphs" style="fill:#000;font-size:6.8px">18938.30</text>
<text x="921.8" y="56.7" textLength="25" lengthAdjust="spacingAndGlyphs" style="fill:#fff;font-size:6.8px">23294.00</text>
<text x="921.8" y="98.7" textLength="25" lengthAdjust="spacingAndGlyphs" style="fill:#fff;font-size:6.8px">22785.00</text>
<text x="921.8" y="152.0" textLength="25" lengthAdjust="spacingAndGlyphs" style="fill:#fff;font-size:6.8px">22127.93</text>
<text x="921.8" y="207.7" textLength="25" lengthAdjust="spacingAndGlyphs" style="fill:#fff;font-size:6.8px">21450.00</text>
<text x="921.8" y="288.7" textLength="25" lengthAdjust="spacingAndGlyphs" style="fill:#fff;font-size:6.8px">20467.00</text>
<text x="921.8" y="366.7" textLength="25" lengthAdjust="spacingAndGlyphs" style="fill:#fff;font-size:6.8px">19517.00</text>
<text x="921.8" y="267.8" textLength="25" lengthAdjust="spacingAndGlyphs" style="fill:#fff;font-size:6.8px">20714.29</text>
<text x="920" y="433.2" textLength="18.7" lengthAdjust="spacingAndGlyphs" style="fill:#000;font-size:6.8px">243.77</text>
<text x="920" y="475.8" textLength="12.2" lengthAdjust="spacingAndGlyphs" style="fill:#000;font-size:6.8px">0.00</text>
<text x="920" y="520.8" textLength="24.2" lengthAdjust="spacingAndGlyphs" style="fill:#000;font-size:6.8px">-262.489</text>
<g shape-rendering="crispEdges">
<rect x="2" y="523" width="1" height="2" fill="#707070"/>
<rect x="56" y="523" width="1" height="2" fill="#707070"/>
<rect x="110" y="523" width="1" height="2" fill="#707070"/>
<rect x="164" y="523" width="1" height="2" fill="#707070"/>
<rect x="218" y="523" width="1" height="2" fill="#707070"/>
<rect x="272" y="523" width="1" height="2" fill="#707070"/>
<rect x="326" y="523" width="1" height="2" fill="#707070"/>
<rect x="380" y="523" width="1" height="2" fill="#707070"/>
<rect x="434" y="523" width="1" height="2" fill="#707070"/>
<rect x="488" y="523" width="1" height="2" fill="#707070"/>
<rect x="542" y="523" width="1" height="2" fill="#707070"/>
<rect x="596" y="523" width="1" height="2" fill="#707070"/>
<rect x="651" y="523" width="1" height="2" fill="#707070"/>
<rect x="705" y="523" width="1" height="2" fill="#707070"/>
<rect x="759" y="523" width="1" height="2" fill="#707070"/>
<rect x="813" y="523" width="1" height="2" fill="#707070"/>
</g>
<text x="2.2" y="530" textLength="29" lengthAdjust="spacingAndGlyphs" style="fill:#000;font-size:6.9px">8 Jun 2022</text>
<text x="56.27" y="530" textLength="34.6" lengthAdjust="spacingAndGlyphs" style="fill:#000;font-size:6.9px">10 Jun 17:00</text>
<text x="110.34" y="530" textLength="34.6" lengthAdjust="spacingAndGlyphs" style="fill:#000;font-size:6.9px">14 Jun 19:00</text>
<text x="164.41" y="530" textLength="34.6" lengthAdjust="spacingAndGlyphs" style="fill:#000;font-size:6.9px">17 Jun 05:00</text>
<text x="218.48" y="530" textLength="34.6" lengthAdjust="spacingAndGlyphs" style="fill:#000;font-size:6.9px">21 Jun 08:00</text>
<text x="272.55" y="530" textLength="34.6" lengthAdjust="spacingAndGlyphs" style="fill:#000;font-size:6.9px">23 Jun 10:00</text>
<text x="326.62" y="530" textLength="34.6" lengthAdjust="spacingAndGlyphs" style="fill:#000;font-size:6.9px">27 Jun 12:00</text>
<text x="380.69" y="530" textLength="34.6" lengthAdjust="spacingAndGlyphs" style="fill:#000;font-size:6.9px">29 Jun 14:00</text>
<text x="434.76" y="530" textLength="29" lengthAdjust="spacingAndGlyphs" style="fill:#000;font-size:6.9px">4 Jul 16:00</text>
<text x="488.83" y="530" textLength="29" lengthAdjust="spacingAndGlyphs" style="fill:#000;font-size:6.9px">6 Jul 18:00</text>
<text x="542.9000000000001" y="530" textLength="32.1" lengthAdjust="spacingAndGlyphs" style="fill:#000;font-size:6.9px">11 Jul 04:00</text>
<text x="596.97" y="530" textLength="32.1" lengthAdjust="spacingAndGlyphs" style="fill:#000;font-size:6.9px">13 Jul 06:00</text>
<text x="651.0400000000001" y="530" textLength="32.1" lengthAdjust="spacingAndGlyphs" style="fill:#000;font-size:6.9px">15 Jul 09:00</text>
<text x="705.11" y="530" textLength="32.1" lengthAdjust="spacingAndGlyphs" style="fill:#000;font-size:6.9px">19 Jul 11:00</text>
<text x="759.1800000000001" y="530" textLength="32.1" lengthAdjust="spacingAndGlyphs" style="fill:#000;font-size:6.9px">21 Jul 13:00</text>
<text x="813.25" y="530" textLength="32.1" lengthAdjust="spacingAndGlyphs" style="fill:#000;font-size:6.9px">25 Jul 15:00</text>
<path d="M4 6 L9 6 L6.5 9 Z" fill="#000"/>
<text x="10.9" y="10" textLength="26.4" lengthAdjust="spacingAndGlyphs" style="fill:#000;font-size:7px">HK50.s,H1</text>
<text x="41.6" y="10" textLength="25.2" lengthAdjust="spacingAndGlyphs" style="fill:#000;font-size:7px">20644.29</text>
<text x="69" y="10" textLength="24.2" lengthAdjust="spacingAndGlyphs" style="fill:#000;font-size:7px">20734.29</text>
<text x="95.4" y="10" textLength="25.5" lengthAdjust="spacingAndGlyphs" style="fill:#000;font-size:7px">20604.29</text>
<text x="122.9" y="10" textLength="24.8" lengthAdjust="spacingAndGlyphs" style="fill:#000;font-size:7px">20714.29</text>
<text x="4" y="434" textLength="39.2" lengthAdjust="spacingAndGlyphs" style="fill:#000;font-size:7px">MACD(12,26,9)</text>
<text x="46.2" y="434" textLength="17.8" lengthAdjust="spacingAndGlyphs" style="fill:#000;font-size:7px">15.855</text>
<text x="65.6" y="434" textLength="17.3" lengthAdjust="spacingAndGlyphs" style="fill:#000;font-size:7px">-4.085</text>
<path d="M822.8 3 L829.2 3 L826 6 Z" fill="#b4b4b4"/>
<path d="M831.29 204.08 L845.34 153.50 L843.60 153.03 L830.71 203.92 Z" fill="#7a7a7a"/>
<path d="M845.50 149.40 L845.80 155.69 L842.12 154.71 Z" fill="#7a7a7a"/>
<path d="M845.79 149.48 L859.36 100.10 L857.62 99.64 L845.21 149.32 Z" fill="#7a7a7a"/>
<path d="M859.50 96.00 L859.82 102.29 L856.14 101.32 Z" fill="#7a7a7a"/>
<path d="M830.72 204.10 L857.41 281.03 L859.11 280.43 L831.28 203.90 Z" fill="#7a7a7a"/>
<path d="M859.60 284.50 L855.80 279.48 L859.38 278.21 Z" fill="#7a7a7a"/>
<path d="M859.32 284.61 L887.32 359.09 L889.00 358.44 L859.88 284.39 Z" fill="#7a7a7a"/>
<path d="M889.60 362.50 L885.67 357.58 L889.22 356.22 Z" fill="#7a7a7a"/>
</svg></body></html>
